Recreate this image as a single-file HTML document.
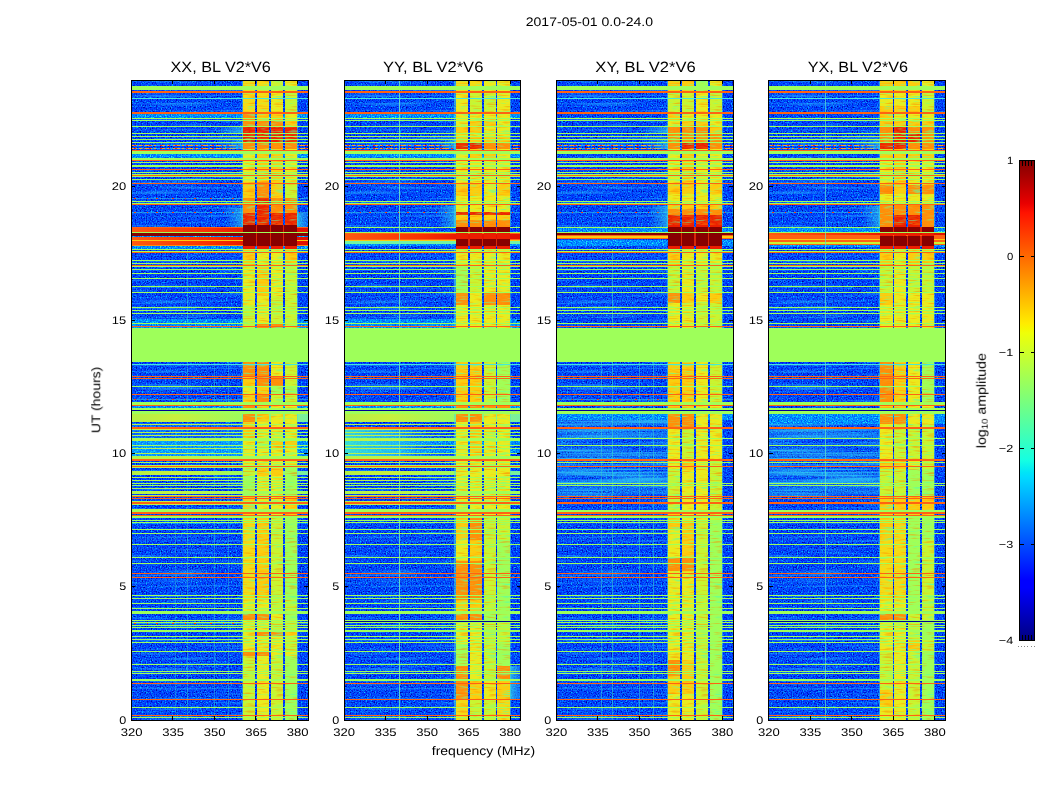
<!DOCTYPE html>
<html><head><meta charset="utf-8"><title>waterfall</title>
<style>
html,body{margin:0;padding:0;background:#fff;}
body{width:1050px;height:800px;overflow:hidden;font-family:"Liberation Sans",sans-serif;}
svg{position:absolute;left:0;top:0;}
text{font-family:"Liberation Sans",sans-serif;fill:#000;}
</style></head><body>
<svg width="1050" height="800" viewBox="0 0 1050 800" shape-rendering="crispEdges">
<defs>
<filter id="nz" x="0" y="0" width="100%" height="100%" color-interpolation-filters="sRGB"><feTurbulence type="fractalNoise" baseFrequency="0.8" numOctaves="2" seed="3" result="t"/><feColorMatrix in="t" type="matrix" values="1 0 0 0 0  1 0 0 0 0  1 0 0 0 0  0 0 0 0 1" result="a"/><feComponentTransfer in="a" result="m"><feFuncR type="table" tableValues="0 0 0 0 0 0 0 0 0 0 0"/><feFuncG type="table" tableValues="0 0 0.02 0.07 0.16 0.26 0.37 0.52 0.72 0.9 1"/><feFuncB type="table" tableValues="0.45 0.5 0.6 0.8 0.95 1 1 1 1 1 1"/></feComponentTransfer><feComposite in="m" in2="SourceAlpha" operator="in"/></filter>
<filter id="nzc" x="0" y="0" width="100%" height="100%" color-interpolation-filters="sRGB"><feTurbulence type="fractalNoise" baseFrequency="0.8" numOctaves="2" seed="3" result="t"/><feColorMatrix in="t" type="matrix" values="1 0 0 0 0  1 0 0 0 0  1 0 0 0 0  0 0 0 0 1" result="a"/><feComponentTransfer in="a" result="m"><feFuncR type="table" tableValues="0 0 0 0 0 0 0 0.05 0.2 0.35 0.35"/><feFuncG type="table" tableValues="0.2 0.2 0.25 0.32 0.44 0.56 0.68 0.82 0.95 1 1"/><feFuncB type="table" tableValues="1 1 1 1 1 1 1 1 0.92 0.85 0.85"/></feComponentTransfer><feComposite in="m" in2="SourceAlpha" operator="in"/></filter>
<filter id="bt" x="0" y="0" width="100%" height="100%" color-interpolation-filters="sRGB"><feTurbulence type="fractalNoise" baseFrequency="0.07 0.55" numOctaves="2" seed="11" result="t"/><feColorMatrix in="t" type="matrix" values="1 0 0 0 0  1 0 0 0 0  1 0 0 0 0  1 0 0 0 0" result="a"/><feComponentTransfer in="a"><feFuncR type="table" tableValues="0.3 0.3 0.35 0.45 0.6 1 1 1 1 1 1"/><feFuncG type="table" tableValues="1 1 1 1 1 1 0.6 0.55 0.5 0.45 0.45"/><feFuncB type="table" tableValues="0.7 0.7 0.65 0.55 0.4 0 0 0 0 0 0"/><feFuncA type="table" tableValues="0.75 0.75 0.65 0.45 0.18 0 0.18 0.36 0.48 0.52 0.52"/></feComponentTransfer><feComposite in2="SourceAlpha" operator="in"/></filter>
<filter id="stk" x="0" y="0" width="100%" height="100%" color-interpolation-filters="sRGB"><feTurbulence type="fractalNoise" baseFrequency="0.012 0.4" numOctaves="2" seed="5" result="t"/><feColorMatrix in="t" type="matrix" values="0 0 0 0 0.15  0 0 0 0 0.7  0 0 0 0 1  1 0 0 0 0"/><feComponentTransfer><feFuncA type="table" tableValues="0 0 0 0 0 0 0.18 0.38 0.5 0.55 0.55"/></feComponentTransfer><feComposite in2="SourceAlpha" operator="in"/></filter>
<linearGradient id="lg" x1="0" y1="0" x2="1" y2="0"><stop offset="0" stop-color="#b4f046"/><stop offset="0.25" stop-color="#c8f03c"/><stop offset="0.6" stop-color="#a0fa5a"/><stop offset="1" stop-color="#78f0a0"/></linearGradient>
<filter id="stk2" x="0" y="0" width="100%" height="100%" color-interpolation-filters="sRGB"><feTurbulence type="fractalNoise" baseFrequency="0.008 0.5" numOctaves="2" seed="9" result="t"/><feColorMatrix in="t" type="matrix" values="0 0 0 0 0.2  0 0 0 0 0.82  0 0 0 0 0.95  1 0 0 0 0"/><feComponentTransfer><feFuncA type="table" tableValues="0 0 0 0 0.1 0.3 0.5 0.7 0.8 0.8 0.8"/></feComponentTransfer><feComposite in2="SourceAlpha" operator="in"/></filter>
<linearGradient id="ag" x1="0" y1="0" x2="1" y2="0"><stop offset="0" stop-color="#aef54e"/><stop offset="0.25" stop-color="#c4f242"/><stop offset="0.6" stop-color="#a2fd5a"/><stop offset="1" stop-color="#9eff5a"/></linearGradient>
<linearGradient id="ev" x1="0" y1="0" x2="1" y2="0"><stop offset="0" stop-color="#ff5a10"/><stop offset="0.45" stop-color="#f83000"/><stop offset="0.65" stop-color="#e81800"/><stop offset="1" stop-color="#e01000"/></linearGradient>
<linearGradient id="gl" x1="0" y1="0" x2="1" y2="0"><stop offset="0" stop-color="#30d0e8" stop-opacity="0"/><stop offset="1" stop-color="#38d8e8" stop-opacity="0.6"/></linearGradient>
<linearGradient id="gr" x1="0" y1="0" x2="1" y2="0"><stop offset="0" stop-color="#30d0e8" stop-opacity="0.8"/><stop offset="1" stop-color="#30c0f0" stop-opacity="0.3"/></linearGradient>
<linearGradient id="blob" x1="0" y1="0" x2="1" y2="0"><stop offset="0" stop-color="#40e8d0" stop-opacity="0.9"/><stop offset="0.5" stop-color="#30d0f0" stop-opacity="0.7"/><stop offset="1" stop-color="#20a0ff" stop-opacity="0"/></linearGradient>
<linearGradient id="jet" x1="0" y1="1" x2="0" y2="0">
<stop offset="0" stop-color="#000080"/><stop offset="0.11" stop-color="#0000ff"/><stop offset="0.125" stop-color="#0000ff"/><stop offset="0.34" stop-color="#00dbff"/><stop offset="0.35" stop-color="#00e5f7"/><stop offset="0.375" stop-color="#15ffe2"/><stop offset="0.5" stop-color="#7bff7b"/><stop offset="0.64" stop-color="#efff08"/><stop offset="0.65" stop-color="#f7f600"/><stop offset="0.66" stop-color="#ffec00"/><stop offset="0.89" stop-color="#ff1300"/><stop offset="0.91" stop-color="#e80000"/><stop offset="1" stop-color="#800000"/>
</linearGradient>
</defs>
<clipPath id="cp0"><rect x="-0.40" y="80" width="178" height="641"/></clipPath>
<g transform="translate(131.40,0)" clip-path="url(#cp0)">
<rect x="0.00" y="80.00" width="176.90" height="640.00" fill="#0848e8" filter="url(#nz)"/>
<rect x="0.00" y="80.00" width="110.90" height="640.00" fill="#fff" filter="url(#stk)"/>
<rect x="0.00" y="145.00" width="176.90" height="1.00" fill="#30c8e8" opacity="0.7"/>
<line x1="1" y1="145.50" x2="176.9" y2="145.50" stroke="#ffa818" stroke-width="1.00" stroke-dasharray="5 2 3 3 7 2 2 4"/>
<line x1="3" y1="145.50" x2="176.9" y2="145.50" stroke="#f03010" stroke-width="1.00" stroke-dasharray="2 7 1 5 2 9"/>
<rect x="0.00" y="148.00" width="176.90" height="1.00" fill="#30c8e8" opacity="0.7"/>
<line x1="1" y1="148.50" x2="176.9" y2="148.50" stroke="#ffa818" stroke-width="1.00" stroke-dasharray="5 2 3 3 7 2 2 4"/>
<line x1="3" y1="148.50" x2="176.9" y2="148.50" stroke="#f03010" stroke-width="1.00" stroke-dasharray="2 7 1 5 2 9"/>
<rect x="0.00" y="198.00" width="176.90" height="1.00" fill="#30c8e8" opacity="0.6"/>
<line x1="3" y1="198.50" x2="176.9" y2="198.50" stroke="#f04010" stroke-width="1.00" stroke-dasharray="2 11 1 8 2 14"/>
<rect x="0.00" y="212.00" width="176.90" height="1.00" fill="#30c8e8" opacity="0.6"/>
<line x1="3" y1="212.50" x2="176.9" y2="212.50" stroke="#f04010" stroke-width="1.00" stroke-dasharray="2 11 1 8 2 14"/>
<rect x="0.00" y="399.00" width="176.90" height="1.00" fill="#30c8e8" opacity="0.6"/>
<line x1="3" y1="399.50" x2="176.9" y2="399.50" stroke="#f04010" stroke-width="1.00" stroke-dasharray="2 11 1 8 2 14"/>
<rect x="0.00" y="623.00" width="176.90" height="1.00" fill="#30c8e8" opacity="0.6"/>
<line x1="3" y1="623.50" x2="176.9" y2="623.50" stroke="#f04010" stroke-width="1.00" stroke-dasharray="2 11 1 8 2 14"/>
<rect x="0.00" y="227.00" width="176.90" height="1.00" fill="#ff6212"/>
<rect x="0.00" y="228.00" width="176.90" height="4.00" fill="url(#ev)"/>
<rect x="0.00" y="233.00" width="176.90" height="3.00" fill="#870000"/>
<rect x="0.00" y="236.00" width="176.90" height="4.00" fill="url(#ev)"/>
<rect x="0.00" y="240.00" width="176.90" height="1.00" fill="#fdcb0e"/>
<rect x="0.00" y="241.00" width="176.90" height="4.00" fill="url(#ev)"/>
<rect x="0.00" y="245.00" width="176.90" height="1.00" fill="#ff8c0a"/>
<g filter="url(#nzc)"><rect x="0.00" y="114.00" width="176.90" height="4.00" fill="#1ea0f5"/><rect x="0.00" y="154.00" width="176.90" height="4.00" fill="#1ea0f5"/><rect x="0.00" y="319.00" width="176.90" height="4.00" fill="#1ea0f5"/><rect x="0.00" y="324.00" width="176.90" height="2.00" fill="#1ea0f5"/><rect x="0.00" y="327.00" width="176.90" height="1.00" fill="#1ea0f5"/><rect x="0.00" y="406.00" width="176.90" height="2.00" fill="#1ea0f5"/><rect x="0.00" y="441.00" width="176.90" height="4.00" fill="#1ea0f5"/><rect x="0.00" y="446.00" width="176.90" height="2.00" fill="#1ea0f5"/><rect x="0.00" y="449.00" width="176.90" height="4.00" fill="#1ea0f5"/><rect x="0.00" y="454.00" width="176.90" height="2.00" fill="#1ea0f5"/><rect x="0.00" y="523.00" width="176.90" height="1.00" fill="#1ea0f5"/><rect x="0.00" y="236.00" width="176.90" height="1.00" fill="#1ea0f5"/><rect x="0.00" y="246.00" width="176.90" height="3.00" fill="#1ea0f5"/></g>
<rect x="82" y="127" width="30" height="6" fill="url(#gl)"/><rect x="85" y="139" width="27" height="10" fill="url(#gl)"/><rect x="93" y="208" width="19" height="19" fill="url(#gl)"/><rect x="165.7" y="213" width="11.200000000000017" height="14" fill="url(#gr)"/><rect x="0" y="423" width="112" height="35" fill="#20c0ff" opacity="0.3"/><rect x="44" y="430" width="1" height="290" fill="#35d0d0" opacity="0.35"/><rect x="56" y="250" width="1" height="470" fill="#35d0d0" opacity="0.45"/><rect x="83" y="330" width="1" height="390" fill="#35d0d0" opacity="0.4"/><rect x="97" y="330" width="1" height="390" fill="#35d0d0" opacity="0.4"/>
<rect x="0.00" y="414.00" width="176.90" height="8.00" fill="url(#lg)"/>
<rect x="0.00" y="471.00" width="176.90" height="4.00" fill="url(#lg)"/>
<rect x="111.90" y="80.00" width="12.10" height="13.00" fill="#f6da14"/>
<rect x="125.80" y="80.00" width="12.10" height="13.00" fill="#f6da14"/>
<rect x="139.70" y="80.00" width="11.90" height="13.00" fill="#c8f532"/>
<rect x="153.40" y="80.00" width="12.20" height="13.00" fill="#ebeb1e"/>
<rect x="111.90" y="93.00" width="12.10" height="19.00" fill="#f6da14"/>
<rect x="125.80" y="93.00" width="12.10" height="19.00" fill="#f6da14"/>
<rect x="139.70" y="93.00" width="11.90" height="19.00" fill="#ebeb1e"/>
<rect x="153.40" y="93.00" width="12.20" height="19.00" fill="#c8f532"/>
<rect x="111.90" y="112.00" width="12.10" height="9.00" fill="#ff8c0a"/>
<rect x="125.80" y="112.00" width="12.10" height="9.00" fill="#fdcb0e"/>
<rect x="139.70" y="112.00" width="11.90" height="9.00" fill="#fdcb0e"/>
<rect x="153.40" y="112.00" width="12.20" height="9.00" fill="#ebeb1e"/>
<rect x="111.90" y="121.00" width="12.10" height="6.00" fill="#ff8c0a"/>
<rect x="125.80" y="121.00" width="12.10" height="6.00" fill="#ff8c0a"/>
<rect x="139.70" y="121.00" width="11.90" height="6.00" fill="#ff8c0a"/>
<rect x="153.40" y="121.00" width="12.20" height="6.00" fill="#fdcb0e"/>
<rect x="111.90" y="127.00" width="12.10" height="16.00" fill="#eb1e00"/>
<rect x="125.80" y="127.00" width="12.10" height="16.00" fill="#eb1e00"/>
<rect x="139.70" y="127.00" width="11.90" height="16.00" fill="#eb1e00"/>
<rect x="153.40" y="127.00" width="12.20" height="16.00" fill="#eb1e00"/>
<rect x="111.90" y="143.00" width="12.10" height="6.00" fill="#ff8c0a"/>
<rect x="125.80" y="143.00" width="12.10" height="6.00" fill="#ff8c0a"/>
<rect x="139.70" y="143.00" width="11.90" height="6.00" fill="#ff8c0a"/>
<rect x="153.40" y="143.00" width="12.20" height="6.00" fill="#ff8c0a"/>
<rect x="111.90" y="149.00" width="12.10" height="33.00" fill="#ebeb1e"/>
<rect x="125.80" y="149.00" width="12.10" height="33.00" fill="#fdcb0e"/>
<rect x="139.70" y="149.00" width="11.90" height="33.00" fill="#fdcb0e"/>
<rect x="153.40" y="149.00" width="12.20" height="33.00" fill="#ebeb1e"/>
<rect x="111.90" y="182.00" width="12.10" height="16.00" fill="#fdcb0e"/>
<rect x="125.80" y="182.00" width="12.10" height="16.00" fill="#ff8c0a"/>
<rect x="139.70" y="182.00" width="11.90" height="16.00" fill="#fdcb0e"/>
<rect x="153.40" y="182.00" width="12.20" height="16.00" fill="#c8f532"/>
<rect x="111.90" y="198.00" width="12.10" height="15.00" fill="#ff8c0a"/>
<rect x="125.80" y="198.00" width="12.10" height="15.00" fill="#eb1e00"/>
<rect x="139.70" y="198.00" width="11.90" height="15.00" fill="#ff8c0a"/>
<rect x="153.40" y="198.00" width="12.20" height="15.00" fill="#ff8c0a"/>
<rect x="111.90" y="213.00" width="12.10" height="12.00" fill="#eb1e00"/>
<rect x="125.80" y="213.00" width="12.10" height="12.00" fill="#eb1e00"/>
<rect x="139.70" y="213.00" width="11.90" height="12.00" fill="#eb1e00"/>
<rect x="153.40" y="213.00" width="12.20" height="12.00" fill="#eb1e00"/>
<rect x="111.90" y="225.00" width="12.10" height="21.00" fill="#870000"/>
<rect x="125.80" y="225.00" width="12.10" height="21.00" fill="#870000"/>
<rect x="139.70" y="225.00" width="11.90" height="21.00" fill="#870000"/>
<rect x="153.40" y="225.00" width="12.20" height="21.00" fill="#870000"/>
<rect x="111.90" y="246.00" width="12.10" height="3.50" fill="#eb1e00"/>
<rect x="125.80" y="246.00" width="12.10" height="3.50" fill="#eb1e00"/>
<rect x="139.70" y="246.00" width="11.90" height="3.50" fill="#eb1e00"/>
<rect x="153.40" y="246.00" width="12.20" height="3.50" fill="#eb1e00"/>
<rect x="111.90" y="249.50" width="12.10" height="16.50" fill="#fdcb0e"/>
<rect x="125.80" y="249.50" width="12.10" height="16.50" fill="#ebeb1e"/>
<rect x="139.70" y="249.50" width="11.90" height="16.50" fill="#ebeb1e"/>
<rect x="153.40" y="249.50" width="12.20" height="16.50" fill="#fdcb0e"/>
<rect x="111.90" y="266.00" width="12.10" height="30.00" fill="#ebeb1e"/>
<rect x="125.80" y="266.00" width="12.10" height="30.00" fill="#fdcb0e"/>
<rect x="139.70" y="266.00" width="11.90" height="30.00" fill="#ebeb1e"/>
<rect x="153.40" y="266.00" width="12.20" height="30.00" fill="#c8f532"/>
<rect x="111.90" y="296.00" width="12.10" height="9.00" fill="#ebeb1e"/>
<rect x="125.80" y="296.00" width="12.10" height="9.00" fill="#ebeb1e"/>
<rect x="139.70" y="296.00" width="11.90" height="9.00" fill="#c8f532"/>
<rect x="153.40" y="296.00" width="12.20" height="9.00" fill="#c8f532"/>
<rect x="111.90" y="305.00" width="12.10" height="19.00" fill="#c8f532"/>
<rect x="125.80" y="305.00" width="12.10" height="19.00" fill="#ebeb1e"/>
<rect x="139.70" y="305.00" width="11.90" height="19.00" fill="#c8f532"/>
<rect x="153.40" y="305.00" width="12.20" height="19.00" fill="#c8f532"/>
<rect x="111.90" y="324.00" width="12.10" height="4.00" fill="#c8f532"/>
<rect x="125.80" y="324.00" width="12.10" height="4.00" fill="#ff8c0a"/>
<rect x="139.70" y="324.00" width="11.90" height="4.00" fill="#ff8c0a"/>
<rect x="153.40" y="324.00" width="12.20" height="4.00" fill="#c8f532"/>
<rect x="111.90" y="362.00" width="12.10" height="14.00" fill="#ff8c0a"/>
<rect x="125.80" y="362.00" width="12.10" height="14.00" fill="#ff8c0a"/>
<rect x="139.70" y="362.00" width="11.90" height="14.00" fill="#ebeb1e"/>
<rect x="153.40" y="362.00" width="12.20" height="14.00" fill="#c8f532"/>
<rect x="111.90" y="376.00" width="12.10" height="10.00" fill="#fdcb0e"/>
<rect x="125.80" y="376.00" width="12.10" height="10.00" fill="#ff8c0a"/>
<rect x="139.70" y="376.00" width="11.90" height="10.00" fill="#ff8c0a"/>
<rect x="153.40" y="376.00" width="12.20" height="10.00" fill="#c8f532"/>
<rect x="111.90" y="386.00" width="12.10" height="8.00" fill="#ebeb1e"/>
<rect x="125.80" y="386.00" width="12.10" height="8.00" fill="#fdcb0e"/>
<rect x="139.70" y="386.00" width="11.90" height="8.00" fill="#9eff5a"/>
<rect x="153.40" y="386.00" width="12.20" height="8.00" fill="#9eff5a"/>
<rect x="111.90" y="394.00" width="12.10" height="8.00" fill="#fdcb0e"/>
<rect x="125.80" y="394.00" width="12.10" height="8.00" fill="#ff8c0a"/>
<rect x="139.70" y="394.00" width="11.90" height="8.00" fill="#c8f532"/>
<rect x="153.40" y="394.00" width="12.20" height="8.00" fill="#c8f532"/>
<rect x="111.90" y="402.00" width="12.10" height="20.00" fill="#ff8c0a"/>
<rect x="125.80" y="402.00" width="12.10" height="20.00" fill="#fdcb0e"/>
<rect x="139.70" y="402.00" width="11.90" height="20.00" fill="#ebeb1e"/>
<rect x="153.40" y="402.00" width="12.20" height="20.00" fill="#ebeb1e"/>
<rect x="111.90" y="422.00" width="12.10" height="19.00" fill="#fdcb0e"/>
<rect x="125.80" y="422.00" width="12.10" height="19.00" fill="#ebeb1e"/>
<rect x="139.70" y="422.00" width="11.90" height="19.00" fill="#ebeb1e"/>
<rect x="153.40" y="422.00" width="12.20" height="19.00" fill="#ebeb1e"/>
<rect x="111.90" y="441.00" width="12.10" height="8.00" fill="#ebeb1e"/>
<rect x="125.80" y="441.00" width="12.10" height="8.00" fill="#c8f532"/>
<rect x="139.70" y="441.00" width="11.90" height="8.00" fill="#fdcb0e"/>
<rect x="153.40" y="441.00" width="12.20" height="8.00" fill="#fdcb0e"/>
<rect x="111.90" y="449.00" width="12.10" height="19.00" fill="#ebeb1e"/>
<rect x="125.80" y="449.00" width="12.10" height="19.00" fill="#ebeb1e"/>
<rect x="139.70" y="449.00" width="11.90" height="19.00" fill="#ebeb1e"/>
<rect x="153.40" y="449.00" width="12.20" height="19.00" fill="#ebeb1e"/>
<rect x="111.90" y="468.00" width="12.10" height="8.00" fill="#c8f532"/>
<rect x="125.80" y="468.00" width="12.10" height="8.00" fill="#fdcb0e"/>
<rect x="139.70" y="468.00" width="11.90" height="8.00" fill="#fdcb0e"/>
<rect x="153.40" y="468.00" width="12.20" height="8.00" fill="#9eff5a"/>
<rect x="111.90" y="476.00" width="12.10" height="19.00" fill="#9eff5a"/>
<rect x="125.80" y="476.00" width="12.10" height="19.00" fill="#ebeb1e"/>
<rect x="139.70" y="476.00" width="11.90" height="19.00" fill="#ebeb1e"/>
<rect x="153.40" y="476.00" width="12.20" height="19.00" fill="#9eff5a"/>
<rect x="111.90" y="495.00" width="12.10" height="23.00" fill="#fdcb0e"/>
<rect x="125.80" y="495.00" width="12.10" height="23.00" fill="#ebeb1e"/>
<rect x="139.70" y="495.00" width="11.90" height="23.00" fill="#ebeb1e"/>
<rect x="153.40" y="495.00" width="12.20" height="23.00" fill="#fdcb0e"/>
<rect x="111.90" y="518.00" width="12.10" height="82.00" fill="#f6da14"/>
<rect x="125.80" y="518.00" width="12.10" height="82.00" fill="#fdcb0e"/>
<rect x="139.70" y="518.00" width="11.90" height="82.00" fill="#c8f532"/>
<rect x="153.40" y="518.00" width="12.20" height="82.00" fill="#9eff5a"/>
<rect x="111.90" y="600.00" width="12.10" height="14.00" fill="#ebeb1e"/>
<rect x="125.80" y="600.00" width="12.10" height="14.00" fill="#ebeb1e"/>
<rect x="139.70" y="600.00" width="11.90" height="14.00" fill="#c8f532"/>
<rect x="153.40" y="600.00" width="12.20" height="14.00" fill="#c8f532"/>
<rect x="111.90" y="614.00" width="12.10" height="7.00" fill="#ff8c0a"/>
<rect x="125.80" y="614.00" width="12.10" height="7.00" fill="#ff8c0a"/>
<rect x="139.70" y="614.00" width="11.90" height="7.00" fill="#ebeb1e"/>
<rect x="153.40" y="614.00" width="12.20" height="7.00" fill="#9eff5a"/>
<rect x="111.90" y="621.00" width="12.10" height="11.00" fill="#ebeb1e"/>
<rect x="125.80" y="621.00" width="12.10" height="11.00" fill="#ebeb1e"/>
<rect x="139.70" y="621.00" width="11.90" height="11.00" fill="#c8f532"/>
<rect x="153.40" y="621.00" width="12.20" height="11.00" fill="#c8f532"/>
<rect x="111.90" y="632.00" width="12.10" height="4.00" fill="#ebeb1e"/>
<rect x="125.80" y="632.00" width="12.10" height="4.00" fill="#ff8c0a"/>
<rect x="139.70" y="632.00" width="11.90" height="4.00" fill="#ff8c0a"/>
<rect x="153.40" y="632.00" width="12.20" height="4.00" fill="#fdcb0e"/>
<rect x="111.90" y="636.00" width="12.10" height="15.00" fill="#ebeb1e"/>
<rect x="125.80" y="636.00" width="12.10" height="15.00" fill="#ebeb1e"/>
<rect x="139.70" y="636.00" width="11.90" height="15.00" fill="#ebeb1e"/>
<rect x="153.40" y="636.00" width="12.20" height="15.00" fill="#c8f532"/>
<rect x="111.90" y="651.00" width="12.10" height="5.00" fill="#ff8c0a"/>
<rect x="125.80" y="651.00" width="12.10" height="5.00" fill="#ff8c0a"/>
<rect x="139.70" y="651.00" width="11.90" height="5.00" fill="#ebeb1e"/>
<rect x="153.40" y="651.00" width="12.20" height="5.00" fill="#ebeb1e"/>
<rect x="111.90" y="656.00" width="12.10" height="64.00" fill="#c8f532"/>
<rect x="125.80" y="656.00" width="12.10" height="64.00" fill="#ebeb1e"/>
<rect x="139.70" y="656.00" width="11.90" height="64.00" fill="#c8f532"/>
<rect x="153.40" y="656.00" width="12.20" height="64.00" fill="#9eff5a"/>
<g filter="url(#bt)"><rect x="111.90" y="80" width="12.10" height="145" fill="#fff"/><rect x="125.80" y="80" width="12.10" height="145" fill="#fff"/><rect x="139.70" y="80" width="11.90" height="145" fill="#fff"/><rect x="153.40" y="80" width="12.20" height="145" fill="#fff"/><rect x="111.90" y="249.5" width="12.10" height="470.5" fill="#fff"/><rect x="125.80" y="249.5" width="12.10" height="470.5" fill="#fff"/><rect x="139.70" y="249.5" width="11.90" height="470.5" fill="#fff"/><rect x="153.40" y="249.5" width="12.20" height="470.5" fill="#fff"/></g>
<rect x="124.00" y="80" width="1.80" height="640" fill="#1060ff" opacity="0.0"/>
<rect x="137.90" y="80" width="1.80" height="640" fill="#1060ff" opacity="0.0"/>
<rect x="151.60" y="80" width="1.80" height="640" fill="#1060ff" opacity="0.0"/>
<rect x="110.40" y="80" width="1.5" height="146" fill="#50e0d0" opacity="0.55"/>
<rect x="165.60" y="80" width="1.3" height="146" fill="#50e0d0" opacity="0.5"/>
<rect x="110.40" y="249" width="1.5" height="471" fill="#50e0d0" opacity="0.55"/>
<rect x="165.60" y="249" width="1.3" height="471" fill="#50e0d0" opacity="0.5"/>
<rect x="111.90" y="225.00" width="53.70" height="21.00" fill="#870000"/>
<rect x="124.30" y="225.00" width="1.20" height="21.00" fill="#d82808"/>
<rect x="138.20" y="225.00" width="1.20" height="21.00" fill="#d82808"/>
<rect x="151.90" y="225.00" width="1.20" height="21.00" fill="#d82808"/>
<rect x="0.00" y="86.00" width="176.90" height="4.00" fill="#9eff5a"/>
<rect x="0.00" y="91.00" width="176.90" height="2.00" fill="#ff6212"/>
<rect x="0.00" y="98.00" width="176.90" height="1.00" fill="#46e8d7"/>
<rect x="0.00" y="112.00" width="176.90" height="2.00" fill="#ff6212"/>
<rect x="0.00" y="118.00" width="176.90" height="1.00" fill="#9eff5a"/>
<rect x="0.00" y="120.00" width="176.90" height="1.00" fill="#9eff5a"/>
<rect x="0.00" y="126.00" width="176.90" height="1.00" fill="#9eff5a"/>
<rect x="0.00" y="133.00" width="176.90" height="1.00" fill="#9eff5a"/>
<rect x="0.00" y="136.00" width="176.90" height="1.00" fill="#9eff5a"/>
<rect x="0.00" y="139.00" width="176.90" height="1.00" fill="#9eff5a"/>
<rect x="0.00" y="142.00" width="176.90" height="1.00" fill="#9eff5a"/>
<rect x="0.00" y="150.00" width="176.90" height="1.00" fill="#ff6212"/>
<rect x="0.00" y="151.00" width="176.90" height="3.00" fill="#9eff5a"/>
<rect x="0.00" y="158.00" width="176.90" height="2.00" fill="#9eff5a"/>
<rect x="0.00" y="160.00" width="176.90" height="1.00" fill="#ff6212"/>
<rect x="0.00" y="162.00" width="176.90" height="1.00" fill="#9eff5a"/>
<rect x="0.00" y="165.00" width="176.90" height="2.00" fill="#9eff5a"/>
<rect x="0.00" y="169.00" width="176.90" height="1.00" fill="#ff6212"/>
<rect x="0.00" y="172.00" width="176.90" height="1.00" fill="#9eff5a"/>
<rect x="0.00" y="174.00" width="176.90" height="1.00" fill="#9eff5a"/>
<rect x="0.00" y="175.00" width="176.90" height="1.00" fill="#ff6212"/>
<rect x="0.00" y="176.00" width="176.90" height="1.00" fill="#9eff5a"/>
<rect x="0.00" y="179.00" width="176.90" height="1.00" fill="#9eff5a"/>
<rect x="0.00" y="183.00" width="176.90" height="1.00" fill="#ff6212"/>
<rect x="0.00" y="201.00" width="176.90" height="1.00" fill="#9eff5a"/>
<rect x="0.00" y="203.00" width="176.90" height="1.00" fill="#9eff5a"/>
<rect x="0.00" y="204.00" width="176.90" height="1.00" fill="#ff6212"/>
<rect x="0.00" y="232.00" width="176.90" height="1.00" fill="#9eff5a"/>
<rect x="0.00" y="249.00" width="176.90" height="1.00" fill="#9eff5a"/>
<rect x="0.00" y="251.00" width="176.90" height="1.00" fill="#9eff5a"/>
<rect x="0.00" y="252.00" width="176.90" height="1.00" fill="#ff6212"/>
<rect x="0.00" y="260.00" width="176.90" height="1.00" fill="#9eff5a"/>
<rect x="0.00" y="263.00" width="176.90" height="1.00" fill="#9eff5a"/>
<rect x="0.00" y="265.00" width="176.90" height="1.00" fill="#ff6212"/>
<rect x="0.00" y="266.00" width="176.90" height="1.00" fill="#9eff5a"/>
<rect x="0.00" y="269.00" width="176.90" height="1.00" fill="#9eff5a"/>
<rect x="0.00" y="273.00" width="176.90" height="1.00" fill="#9eff5a"/>
<rect x="0.00" y="278.00" width="176.90" height="1.00" fill="#9eff5a"/>
<rect x="0.00" y="286.00" width="176.90" height="1.00" fill="#9eff5a"/>
<rect x="0.00" y="292.00" width="176.90" height="1.00" fill="#9eff5a"/>
<rect x="0.00" y="307.00" width="176.90" height="1.00" fill="#9eff5a"/>
<rect x="0.00" y="310.00" width="176.90" height="1.00" fill="#9eff5a"/>
<rect x="0.00" y="313.00" width="176.90" height="1.00" fill="#9eff5a"/>
<rect x="0.00" y="323.00" width="176.90" height="1.00" fill="#9eff5a"/>
<rect x="0.00" y="326.00" width="176.90" height="1.00" fill="#ff6212"/>
<rect x="0.00" y="328.00" width="176.90" height="34.00" fill="#9eff5a"/>
<rect x="0.00" y="364.00" width="176.90" height="1.00" fill="#46e8d7"/>
<rect x="0.00" y="376.00" width="176.90" height="1.00" fill="#ff6212"/>
<rect x="0.00" y="378.00" width="176.90" height="1.00" fill="#ff6212"/>
<rect x="0.00" y="386.00" width="176.90" height="1.00" fill="#9eff5a"/>
<rect x="0.00" y="394.00" width="176.90" height="1.00" fill="#ff6212"/>
<rect x="0.00" y="402.00" width="176.90" height="3.00" fill="#9eff5a"/>
<rect x="0.00" y="405.00" width="176.90" height="1.00" fill="#ff6212"/>
<rect x="0.00" y="408.00" width="176.90" height="2.00" fill="#9eff5a"/>
<rect x="0.00" y="410.00" width="176.90" height="1.00" fill="#000096"/>
<rect x="0.00" y="411.00" width="176.90" height="3.00" fill="#9eff5a"/>
<rect x="0.00" y="427.00" width="176.90" height="2.00" fill="#ff6212"/>
<rect x="0.00" y="438.00" width="176.90" height="1.00" fill="#9eff5a"/>
<rect x="0.00" y="445.00" width="176.90" height="1.00" fill="#9eff5a"/>
<rect x="0.00" y="459.00" width="176.90" height="2.00" fill="#ff6212"/>
<rect x="0.00" y="462.00" width="176.90" height="1.00" fill="#9eff5a"/>
<rect x="0.00" y="466.00" width="176.90" height="1.00" fill="#ff6212"/>
<rect x="0.00" y="483.00" width="176.90" height="1.00" fill="#9eff5a"/>
<rect x="0.00" y="485.00" width="176.90" height="1.00" fill="#9eff5a"/>
<rect x="0.00" y="496.00" width="176.90" height="1.00" fill="#ff6212"/>
<rect x="0.00" y="498.00" width="176.90" height="1.00" fill="#ff6212"/>
<rect x="0.00" y="502.00" width="176.90" height="2.00" fill="#ff6212"/>
<rect x="0.00" y="510.00" width="176.90" height="2.00" fill="#9eff5a"/>
<rect x="0.00" y="512.00" width="176.90" height="2.00" fill="#ff6212"/>
<rect x="0.00" y="515.00" width="176.90" height="1.00" fill="#ff6212"/>
<rect x="0.00" y="516.00" width="176.90" height="2.00" fill="#9eff5a"/>
<rect x="0.00" y="520.00" width="176.90" height="1.00" fill="#9eff5a"/>
<rect x="0.00" y="522.00" width="176.90" height="1.00" fill="#9eff5a"/>
<rect x="0.00" y="529.00" width="176.90" height="1.00" fill="#9eff5a"/>
<rect x="0.00" y="533.00" width="176.90" height="1.00" fill="#9eff5a"/>
<rect x="0.00" y="544.00" width="176.90" height="1.00" fill="#9eff5a"/>
<rect x="0.00" y="557.00" width="176.90" height="1.00" fill="#9eff5a"/>
<rect x="0.00" y="563.00" width="176.90" height="1.00" fill="#9eff5a"/>
<rect x="0.00" y="573.00" width="176.90" height="1.00" fill="#ff6212"/>
<rect x="0.00" y="577.00" width="176.90" height="1.00" fill="#ff6212"/>
<rect x="0.00" y="595.00" width="176.90" height="1.00" fill="#9eff5a"/>
<rect x="0.00" y="598.00" width="176.90" height="1.00" fill="#9eff5a"/>
<rect x="0.00" y="603.00" width="176.90" height="1.00" fill="#9eff5a"/>
<rect x="0.00" y="608.00" width="176.90" height="1.00" fill="#9eff5a"/>
<rect x="0.00" y="611.00" width="176.90" height="3.00" fill="#9eff5a"/>
<rect x="0.00" y="620.00" width="176.90" height="1.00" fill="#9eff5a"/>
<rect x="0.00" y="622.00" width="176.90" height="1.00" fill="#9eff5a"/>
<rect x="0.00" y="625.00" width="176.90" height="1.00" fill="#9eff5a"/>
<rect x="0.00" y="627.00" width="176.90" height="1.00" fill="#9eff5a"/>
<rect x="0.00" y="630.00" width="176.90" height="2.00" fill="#9eff5a"/>
<rect x="0.00" y="636.00" width="176.90" height="1.00" fill="#9eff5a"/>
<rect x="0.00" y="639.00" width="176.90" height="1.00" fill="#9eff5a"/>
<rect x="0.00" y="642.00" width="176.90" height="1.00" fill="#9eff5a"/>
<rect x="0.00" y="651.00" width="176.90" height="1.00" fill="#9eff5a"/>
<rect x="0.00" y="664.00" width="176.90" height="1.00" fill="#9eff5a"/>
<rect x="0.00" y="671.00" width="176.90" height="1.00" fill="#9eff5a"/>
<rect x="0.00" y="673.00" width="176.90" height="1.00" fill="#9eff5a"/>
<rect x="0.00" y="679.00" width="176.90" height="2.00" fill="#9eff5a"/>
<rect x="0.00" y="683.00" width="176.90" height="1.00" fill="#ff6212"/>
<rect x="0.00" y="699.00" width="176.90" height="1.00" fill="#ff6212"/>
<rect x="0.00" y="707.00" width="176.90" height="1.00" fill="#9eff5a"/>
<rect x="0.00" y="715.00" width="176.90" height="1.00" fill="#ff6212"/>
<rect x="0.00" y="717.00" width="176.90" height="1.00" fill="#9eff5a"/>
<rect x="0.00" y="424.00" width="176.90" height="1.00" fill="url(#ag)"/>
<rect x="0.00" y="429.00" width="176.90" height="1.00" fill="url(#ag)"/>
<rect x="0.00" y="432.00" width="176.90" height="1.00" fill="url(#ag)"/>
<rect x="0.00" y="435.00" width="176.90" height="1.00" fill="url(#ag)"/>
<rect x="0.00" y="439.00" width="176.90" height="2.00" fill="url(#ag)"/>
<rect x="0.00" y="448.00" width="176.90" height="1.00" fill="url(#ag)"/>
<rect x="0.00" y="453.00" width="176.90" height="1.00" fill="url(#ag)"/>
<rect x="0.00" y="456.00" width="176.90" height="3.00" fill="url(#ag)"/>
<rect x="0.00" y="465.00" width="176.90" height="1.00" fill="url(#ag)"/>
<rect x="0.00" y="467.00" width="176.90" height="1.00" fill="url(#ag)"/>
<rect x="0.00" y="477.00" width="176.90" height="1.00" fill="url(#ag)"/>
<rect x="0.00" y="480.00" width="176.90" height="1.00" fill="url(#ag)"/>
<rect x="0.00" y="488.00" width="176.90" height="1.00" fill="url(#ag)"/>
<rect x="0.00" y="491.00" width="176.90" height="3.00" fill="url(#ag)"/>
<rect x="0.00" y="495.00" width="176.90" height="1.00" fill="url(#ag)"/>
<rect x="0.00" y="501.00" width="176.90" height="1.00" fill="url(#ag)"/>
<rect x="0.00" y="504.00" width="176.90" height="1.00" fill="url(#ag)"/>
<rect x="0.00" y="509.00" width="176.90" height="1.00" fill="url(#ag)"/>
</g>
<rect x="131" y="80" width="1" height="641" fill="#000"/><rect x="308" y="80" width="1" height="641" fill="#000"/><rect x="131" y="80" width="178" height="1" fill="#000"/><rect x="131" y="720" width="178" height="1" fill="#000"/><clipPath id="cp1"><rect x="0.00" y="80" width="177" height="641"/></clipPath>
<g transform="translate(344.00,0)" clip-path="url(#cp1)">
<rect x="0.00" y="80.00" width="176.90" height="640.00" fill="#0848e8" filter="url(#nz)"/>
<rect x="0.00" y="80.00" width="110.90" height="640.00" fill="#fff" filter="url(#stk)"/>
<rect x="0.00" y="145.00" width="176.90" height="1.00" fill="#30c8e8" opacity="0.7"/>
<line x1="1" y1="145.50" x2="176.9" y2="145.50" stroke="#ffa818" stroke-width="1.00" stroke-dasharray="5 2 3 3 7 2 2 4"/>
<line x1="3" y1="145.50" x2="176.9" y2="145.50" stroke="#f03010" stroke-width="1.00" stroke-dasharray="2 7 1 5 2 9"/>
<rect x="0.00" y="148.00" width="176.90" height="1.00" fill="#30c8e8" opacity="0.7"/>
<line x1="1" y1="148.50" x2="176.9" y2="148.50" stroke="#ffa818" stroke-width="1.00" stroke-dasharray="5 2 3 3 7 2 2 4"/>
<line x1="3" y1="148.50" x2="176.9" y2="148.50" stroke="#f03010" stroke-width="1.00" stroke-dasharray="2 7 1 5 2 9"/>
<rect x="0.00" y="212.00" width="176.90" height="1.00" fill="#30c8e8" opacity="0.6"/>
<line x1="3" y1="212.50" x2="176.9" y2="212.50" stroke="#f04010" stroke-width="1.00" stroke-dasharray="2 11 1 8 2 14"/>
<rect x="0.00" y="227.00" width="176.90" height="1.00" fill="#9eff5a"/>
<rect x="0.00" y="233.00" width="176.90" height="1.00" fill="#ff6212"/>
<rect x="0.00" y="234.00" width="176.90" height="5.00" fill="url(#ev)"/>
<rect x="0.00" y="239.00" width="176.90" height="1.00" fill="#ff6212"/>
<rect x="0.00" y="240.00" width="176.90" height="1.00" fill="#fdcb0e"/>
<rect x="0.00" y="241.00" width="176.90" height="3.00" fill="#73f5a0"/>
<g filter="url(#nzc)"><rect x="0.00" y="114.00" width="176.90" height="4.00" fill="#1ea0f5"/><rect x="0.00" y="154.00" width="176.90" height="4.00" fill="#1ea0f5"/><rect x="0.00" y="319.00" width="176.90" height="4.00" fill="#1ea0f5"/><rect x="0.00" y="324.00" width="176.90" height="2.00" fill="#1ea0f5"/><rect x="0.00" y="327.00" width="176.90" height="1.00" fill="#1ea0f5"/><rect x="0.00" y="406.00" width="176.90" height="2.00" fill="#1ea0f5"/><rect x="0.00" y="441.00" width="176.90" height="4.00" fill="#1ea0f5"/><rect x="0.00" y="449.00" width="176.90" height="4.00" fill="#1ea0f5"/><rect x="0.00" y="244.00" width="176.90" height="2.00" fill="#1ea0f5"/></g>
<rect x="90" y="139" width="22" height="9" fill="url(#gl)"/><rect x="93" y="206" width="19" height="21" fill="url(#gl)"/><rect x="165.7" y="666" width="11.200000000000017" height="34" fill="url(#gr)"/><rect x="0" y="428" width="105" height="29" fill="url(#blob)"/><rect x="55.4" y="80" width="1" height="640" fill="#70e8c0" opacity="0.85"/>
<rect x="0.00" y="414.00" width="176.90" height="8.00" fill="url(#lg)"/>
<rect x="0.00" y="471.00" width="176.90" height="4.00" fill="url(#lg)"/>
<rect x="111.90" y="80.00" width="12.10" height="13.00" fill="#f6da14"/>
<rect x="125.80" y="80.00" width="12.10" height="13.00" fill="#f6da14"/>
<rect x="139.70" y="80.00" width="11.90" height="13.00" fill="#ebeb1e"/>
<rect x="153.40" y="80.00" width="12.20" height="13.00" fill="#ebeb1e"/>
<rect x="111.90" y="93.00" width="12.10" height="19.00" fill="#ebeb1e"/>
<rect x="125.80" y="93.00" width="12.10" height="19.00" fill="#c8f532"/>
<rect x="139.70" y="93.00" width="11.90" height="19.00" fill="#c8f532"/>
<rect x="153.40" y="93.00" width="12.20" height="19.00" fill="#ebeb1e"/>
<rect x="111.90" y="112.00" width="12.10" height="8.00" fill="#ebeb1e"/>
<rect x="125.80" y="112.00" width="12.10" height="8.00" fill="#ebeb1e"/>
<rect x="139.70" y="112.00" width="11.90" height="8.00" fill="#ebeb1e"/>
<rect x="153.40" y="112.00" width="12.20" height="8.00" fill="#ebeb1e"/>
<rect x="111.90" y="120.00" width="12.10" height="7.00" fill="#ebeb1e"/>
<rect x="125.80" y="120.00" width="12.10" height="7.00" fill="#fdcb0e"/>
<rect x="139.70" y="120.00" width="11.90" height="7.00" fill="#fdcb0e"/>
<rect x="153.40" y="120.00" width="12.20" height="7.00" fill="#ebeb1e"/>
<rect x="111.90" y="127.00" width="12.10" height="6.00" fill="#fdcb0e"/>
<rect x="125.80" y="127.00" width="12.10" height="6.00" fill="#fdcb0e"/>
<rect x="139.70" y="127.00" width="11.90" height="6.00" fill="#ebeb1e"/>
<rect x="153.40" y="127.00" width="12.20" height="6.00" fill="#ebeb1e"/>
<rect x="111.90" y="133.00" width="12.10" height="4.00" fill="#ebeb1e"/>
<rect x="125.80" y="133.00" width="12.10" height="4.00" fill="#ebeb1e"/>
<rect x="139.70" y="133.00" width="11.90" height="4.00" fill="#ebeb1e"/>
<rect x="153.40" y="133.00" width="12.20" height="4.00" fill="#ebeb1e"/>
<rect x="111.90" y="137.00" width="12.10" height="6.00" fill="#fdcb0e"/>
<rect x="125.80" y="137.00" width="12.10" height="6.00" fill="#fdcb0e"/>
<rect x="139.70" y="137.00" width="11.90" height="6.00" fill="#fdcb0e"/>
<rect x="153.40" y="137.00" width="12.20" height="6.00" fill="#fdcb0e"/>
<rect x="111.90" y="143.00" width="12.10" height="6.00" fill="#eb1e00"/>
<rect x="125.80" y="143.00" width="12.10" height="6.00" fill="#eb1e00"/>
<rect x="139.70" y="143.00" width="11.90" height="6.00" fill="#ff8c0a"/>
<rect x="153.40" y="143.00" width="12.20" height="6.00" fill="#ff8c0a"/>
<rect x="111.90" y="149.00" width="12.10" height="12.00" fill="#ebeb1e"/>
<rect x="125.80" y="149.00" width="12.10" height="12.00" fill="#fdcb0e"/>
<rect x="139.70" y="149.00" width="11.90" height="12.00" fill="#fdcb0e"/>
<rect x="153.40" y="149.00" width="12.20" height="12.00" fill="#ebeb1e"/>
<rect x="111.90" y="161.00" width="12.10" height="23.50" fill="#ebeb1e"/>
<rect x="125.80" y="161.00" width="12.10" height="23.50" fill="#ebeb1e"/>
<rect x="139.70" y="161.00" width="11.90" height="23.50" fill="#ebeb1e"/>
<rect x="153.40" y="161.00" width="12.20" height="23.50" fill="#ebeb1e"/>
<rect x="111.90" y="184.50" width="12.10" height="11.00" fill="#fdcb0e"/>
<rect x="125.80" y="184.50" width="12.10" height="11.00" fill="#fdcb0e"/>
<rect x="139.70" y="184.50" width="11.90" height="11.00" fill="#ebeb1e"/>
<rect x="153.40" y="184.50" width="12.20" height="11.00" fill="#fdcb0e"/>
<rect x="111.90" y="195.50" width="12.10" height="10.50" fill="#ebeb1e"/>
<rect x="125.80" y="195.50" width="12.10" height="10.50" fill="#ebeb1e"/>
<rect x="139.70" y="195.50" width="11.90" height="10.50" fill="#ebeb1e"/>
<rect x="153.40" y="195.50" width="12.20" height="10.50" fill="#ebeb1e"/>
<rect x="111.90" y="206.00" width="12.10" height="6.00" fill="#ebeb1e"/>
<rect x="125.80" y="206.00" width="12.10" height="6.00" fill="#ebeb1e"/>
<rect x="139.70" y="206.00" width="11.90" height="6.00" fill="#ebeb1e"/>
<rect x="153.40" y="206.00" width="12.20" height="6.00" fill="#ebeb1e"/>
<rect x="111.90" y="212.00" width="12.10" height="3.00" fill="#eb1e00"/>
<rect x="125.80" y="212.00" width="12.10" height="3.00" fill="#eb1e00"/>
<rect x="139.70" y="212.00" width="11.90" height="3.00" fill="#eb1e00"/>
<rect x="153.40" y="212.00" width="12.20" height="3.00" fill="#eb1e00"/>
<rect x="111.90" y="215.00" width="12.10" height="5.00" fill="#fdcb0e"/>
<rect x="125.80" y="215.00" width="12.10" height="5.00" fill="#fdcb0e"/>
<rect x="139.70" y="215.00" width="11.90" height="5.00" fill="#fdcb0e"/>
<rect x="153.40" y="215.00" width="12.20" height="5.00" fill="#fdcb0e"/>
<rect x="111.90" y="220.00" width="12.10" height="6.50" fill="#ff8c0a"/>
<rect x="125.80" y="220.00" width="12.10" height="6.50" fill="#ff8c0a"/>
<rect x="139.70" y="220.00" width="11.90" height="6.50" fill="#ff8c0a"/>
<rect x="153.40" y="220.00" width="12.20" height="6.50" fill="#ff8c0a"/>
<rect x="111.90" y="226.50" width="12.10" height="5.00" fill="#870000"/>
<rect x="125.80" y="226.50" width="12.10" height="5.00" fill="#870000"/>
<rect x="139.70" y="226.50" width="11.90" height="5.00" fill="#870000"/>
<rect x="153.40" y="226.50" width="12.20" height="5.00" fill="#870000"/>
<rect x="111.90" y="231.50" width="12.10" height="7.00" fill="#eb1e00"/>
<rect x="125.80" y="231.50" width="12.10" height="7.00" fill="#eb1e00"/>
<rect x="139.70" y="231.50" width="11.90" height="7.00" fill="#eb1e00"/>
<rect x="153.40" y="231.50" width="12.20" height="7.00" fill="#eb1e00"/>
<rect x="111.90" y="238.50" width="12.10" height="7.00" fill="#870000"/>
<rect x="125.80" y="238.50" width="12.10" height="7.00" fill="#870000"/>
<rect x="139.70" y="238.50" width="11.90" height="7.00" fill="#870000"/>
<rect x="153.40" y="238.50" width="12.20" height="7.00" fill="#870000"/>
<rect x="111.90" y="245.50" width="12.10" height="3.50" fill="#eb1e00"/>
<rect x="125.80" y="245.50" width="12.10" height="3.50" fill="#eb1e00"/>
<rect x="139.70" y="245.50" width="11.90" height="3.50" fill="#eb1e00"/>
<rect x="153.40" y="245.50" width="12.20" height="3.50" fill="#eb1e00"/>
<rect x="111.90" y="249.00" width="12.10" height="17.00" fill="#ebeb1e"/>
<rect x="125.80" y="249.00" width="12.10" height="17.00" fill="#ebeb1e"/>
<rect x="139.70" y="249.00" width="11.90" height="17.00" fill="#ebeb1e"/>
<rect x="153.40" y="249.00" width="12.20" height="17.00" fill="#ebeb1e"/>
<rect x="111.90" y="266.00" width="12.10" height="26.00" fill="#9eff5a"/>
<rect x="125.80" y="266.00" width="12.10" height="26.00" fill="#c8f532"/>
<rect x="139.70" y="266.00" width="11.90" height="26.00" fill="#ebeb1e"/>
<rect x="153.40" y="266.00" width="12.20" height="26.00" fill="#ebeb1e"/>
<rect x="111.90" y="292.00" width="12.10" height="13.00" fill="#ff8c0a"/>
<rect x="125.80" y="292.00" width="12.10" height="13.00" fill="#ebeb1e"/>
<rect x="139.70" y="292.00" width="11.90" height="13.00" fill="#ff8c0a"/>
<rect x="153.40" y="292.00" width="12.20" height="13.00" fill="#ff8c0a"/>
<rect x="111.90" y="305.00" width="12.10" height="23.00" fill="#ebeb1e"/>
<rect x="125.80" y="305.00" width="12.10" height="23.00" fill="#ebeb1e"/>
<rect x="139.70" y="305.00" width="11.90" height="23.00" fill="#ebeb1e"/>
<rect x="153.40" y="305.00" width="12.20" height="23.00" fill="#ebeb1e"/>
<rect x="111.90" y="362.00" width="12.10" height="40.00" fill="#fdcb0e"/>
<rect x="125.80" y="362.00" width="12.10" height="40.00" fill="#fdcb0e"/>
<rect x="139.70" y="362.00" width="11.90" height="40.00" fill="#c8f532"/>
<rect x="153.40" y="362.00" width="12.20" height="40.00" fill="#9eff5a"/>
<rect x="111.90" y="402.00" width="12.10" height="11.00" fill="#ff8c0a"/>
<rect x="125.80" y="402.00" width="12.10" height="11.00" fill="#ff8c0a"/>
<rect x="139.70" y="402.00" width="11.90" height="11.00" fill="#ff8c0a"/>
<rect x="153.40" y="402.00" width="12.20" height="11.00" fill="#ff8c0a"/>
<rect x="111.90" y="413.00" width="12.10" height="9.00" fill="#ff8c0a"/>
<rect x="125.80" y="413.00" width="12.10" height="9.00" fill="#ff8c0a"/>
<rect x="139.70" y="413.00" width="11.90" height="9.00" fill="#ebeb1e"/>
<rect x="153.40" y="413.00" width="12.20" height="9.00" fill="#ebeb1e"/>
<rect x="111.90" y="422.00" width="12.10" height="35.00" fill="#ebeb1e"/>
<rect x="125.80" y="422.00" width="12.10" height="35.00" fill="#fdcb0e"/>
<rect x="139.70" y="422.00" width="11.90" height="35.00" fill="#ebeb1e"/>
<rect x="153.40" y="422.00" width="12.20" height="35.00" fill="#ebeb1e"/>
<rect x="111.90" y="457.00" width="12.10" height="61.00" fill="#ebeb1e"/>
<rect x="125.80" y="457.00" width="12.10" height="61.00" fill="#ebeb1e"/>
<rect x="139.70" y="457.00" width="11.90" height="61.00" fill="#ebeb1e"/>
<rect x="153.40" y="457.00" width="12.20" height="61.00" fill="#ebeb1e"/>
<rect x="111.90" y="518.00" width="12.10" height="22.00" fill="#fdcb0e"/>
<rect x="125.80" y="518.00" width="12.10" height="22.00" fill="#ff8c0a"/>
<rect x="139.70" y="518.00" width="11.90" height="22.00" fill="#c8f532"/>
<rect x="153.40" y="518.00" width="12.20" height="22.00" fill="#c8f532"/>
<rect x="111.90" y="540.00" width="12.10" height="21.00" fill="#ebeb1e"/>
<rect x="125.80" y="540.00" width="12.10" height="21.00" fill="#fdcb0e"/>
<rect x="139.70" y="540.00" width="11.90" height="21.00" fill="#c8f532"/>
<rect x="153.40" y="540.00" width="12.20" height="21.00" fill="#9eff5a"/>
<rect x="111.90" y="561.00" width="12.10" height="39.00" fill="#ff8c0a"/>
<rect x="125.80" y="561.00" width="12.10" height="39.00" fill="#ff8c0a"/>
<rect x="139.70" y="561.00" width="11.90" height="39.00" fill="#c8f532"/>
<rect x="153.40" y="561.00" width="12.20" height="39.00" fill="#9eff5a"/>
<rect x="111.90" y="600.00" width="12.10" height="13.00" fill="#fdcb0e"/>
<rect x="125.80" y="600.00" width="12.10" height="13.00" fill="#fdcb0e"/>
<rect x="139.70" y="600.00" width="11.90" height="13.00" fill="#c8f532"/>
<rect x="153.40" y="600.00" width="12.20" height="13.00" fill="#9eff5a"/>
<rect x="111.90" y="613.00" width="12.10" height="8.00" fill="#ff8c0a"/>
<rect x="125.80" y="613.00" width="12.10" height="8.00" fill="#ff8c0a"/>
<rect x="139.70" y="613.00" width="11.90" height="8.00" fill="#9eff5a"/>
<rect x="153.40" y="613.00" width="12.20" height="8.00" fill="#9eff5a"/>
<rect x="111.90" y="621.00" width="12.10" height="23.00" fill="#ebeb1e"/>
<rect x="125.80" y="621.00" width="12.10" height="23.00" fill="#ebeb1e"/>
<rect x="139.70" y="621.00" width="11.90" height="23.00" fill="#c8f532"/>
<rect x="153.40" y="621.00" width="12.20" height="23.00" fill="#c8f532"/>
<rect x="111.90" y="644.00" width="12.10" height="22.00" fill="#9eff5a"/>
<rect x="125.80" y="644.00" width="12.10" height="22.00" fill="#ebeb1e"/>
<rect x="139.70" y="644.00" width="11.90" height="22.00" fill="#c8f532"/>
<rect x="153.40" y="644.00" width="12.20" height="22.00" fill="#9eff5a"/>
<rect x="111.90" y="666.00" width="12.10" height="15.00" fill="#ff8c0a"/>
<rect x="125.80" y="666.00" width="12.10" height="15.00" fill="#ebeb1e"/>
<rect x="139.70" y="666.00" width="11.90" height="15.00" fill="#c8f532"/>
<rect x="153.40" y="666.00" width="12.20" height="15.00" fill="#ff8c0a"/>
<rect x="111.90" y="681.00" width="12.10" height="17.50" fill="#ff8c0a"/>
<rect x="125.80" y="681.00" width="12.10" height="17.50" fill="#fdcb0e"/>
<rect x="139.70" y="681.00" width="11.90" height="17.50" fill="#ebeb1e"/>
<rect x="153.40" y="681.00" width="12.20" height="17.50" fill="#fdcb0e"/>
<rect x="111.90" y="698.50" width="12.10" height="21.50" fill="#f6da14"/>
<rect x="125.80" y="698.50" width="12.10" height="21.50" fill="#c8f532"/>
<rect x="139.70" y="698.50" width="11.90" height="21.50" fill="#c8f532"/>
<rect x="153.40" y="698.50" width="12.20" height="21.50" fill="#f6da14"/>
<g filter="url(#bt)"><rect x="111.90" y="80" width="12.10" height="145" fill="#fff"/><rect x="125.80" y="80" width="12.10" height="145" fill="#fff"/><rect x="139.70" y="80" width="11.90" height="145" fill="#fff"/><rect x="153.40" y="80" width="12.20" height="145" fill="#fff"/><rect x="111.90" y="249.5" width="12.10" height="470.5" fill="#fff"/><rect x="125.80" y="249.5" width="12.10" height="470.5" fill="#fff"/><rect x="139.70" y="249.5" width="11.90" height="470.5" fill="#fff"/><rect x="153.40" y="249.5" width="12.20" height="470.5" fill="#fff"/></g>
<rect x="124.00" y="80" width="1.80" height="640" fill="#1060ff" opacity="0.0"/>
<rect x="137.90" y="80" width="1.80" height="640" fill="#1060ff" opacity="0.0"/>
<rect x="151.60" y="80" width="1.80" height="640" fill="#1060ff" opacity="0.0"/>
<rect x="110.40" y="80" width="1.5" height="146" fill="#50e0d0" opacity="0.55"/>
<rect x="165.60" y="80" width="1.3" height="146" fill="#50e0d0" opacity="0.5"/>
<rect x="110.40" y="249" width="1.5" height="471" fill="#50e0d0" opacity="0.55"/>
<rect x="165.60" y="249" width="1.3" height="471" fill="#50e0d0" opacity="0.5"/>
<rect x="111.90" y="226.50" width="53.70" height="5.00" fill="#870000"/>
<rect x="124.30" y="226.50" width="1.20" height="5.00" fill="#d82808"/>
<rect x="138.20" y="226.50" width="1.20" height="5.00" fill="#d82808"/>
<rect x="151.90" y="226.50" width="1.20" height="5.00" fill="#d82808"/>
<rect x="111.90" y="238.50" width="53.70" height="7.00" fill="#870000"/>
<rect x="124.30" y="238.50" width="1.20" height="7.00" fill="#d82808"/>
<rect x="138.20" y="238.50" width="1.20" height="7.00" fill="#d82808"/>
<rect x="151.90" y="238.50" width="1.20" height="7.00" fill="#d82808"/>
<rect x="0.00" y="86.00" width="176.90" height="4.00" fill="#9eff5a"/>
<rect x="0.00" y="91.00" width="176.90" height="2.00" fill="#ff6212"/>
<rect x="0.00" y="98.00" width="176.90" height="1.00" fill="#46e8d7"/>
<rect x="0.00" y="112.00" width="176.90" height="2.00" fill="#ff6212"/>
<rect x="0.00" y="118.00" width="176.90" height="1.00" fill="#9eff5a"/>
<rect x="0.00" y="120.00" width="176.90" height="1.00" fill="#9eff5a"/>
<rect x="0.00" y="126.00" width="176.90" height="1.00" fill="#9eff5a"/>
<rect x="0.00" y="133.00" width="176.90" height="1.00" fill="#9eff5a"/>
<rect x="0.00" y="136.00" width="176.90" height="1.00" fill="#9eff5a"/>
<rect x="0.00" y="139.00" width="176.90" height="1.00" fill="#9eff5a"/>
<rect x="0.00" y="142.00" width="176.90" height="1.00" fill="#9eff5a"/>
<rect x="0.00" y="150.00" width="176.90" height="1.00" fill="#ff6212"/>
<rect x="0.00" y="151.00" width="176.90" height="3.00" fill="#9eff5a"/>
<rect x="0.00" y="158.00" width="176.90" height="2.00" fill="#9eff5a"/>
<rect x="0.00" y="160.00" width="176.90" height="1.00" fill="#ff6212"/>
<rect x="0.00" y="162.00" width="176.90" height="1.00" fill="#9eff5a"/>
<rect x="0.00" y="165.00" width="176.90" height="2.00" fill="#9eff5a"/>
<rect x="0.00" y="169.00" width="176.90" height="1.00" fill="#ff6212"/>
<rect x="0.00" y="172.00" width="176.90" height="1.00" fill="#9eff5a"/>
<rect x="0.00" y="174.00" width="176.90" height="1.00" fill="#9eff5a"/>
<rect x="0.00" y="175.00" width="176.90" height="1.00" fill="#ff6212"/>
<rect x="0.00" y="176.00" width="176.90" height="1.00" fill="#9eff5a"/>
<rect x="0.00" y="179.00" width="176.90" height="1.00" fill="#9eff5a"/>
<rect x="0.00" y="183.00" width="176.90" height="1.00" fill="#ff6212"/>
<rect x="0.00" y="201.00" width="176.90" height="1.00" fill="#9eff5a"/>
<rect x="0.00" y="203.00" width="176.90" height="1.00" fill="#9eff5a"/>
<rect x="0.00" y="204.00" width="176.90" height="1.00" fill="#ff6212"/>
<rect x="0.00" y="232.00" width="176.90" height="1.00" fill="#9eff5a"/>
<rect x="0.00" y="249.00" width="176.90" height="1.00" fill="#9eff5a"/>
<rect x="0.00" y="251.00" width="176.90" height="1.00" fill="#9eff5a"/>
<rect x="0.00" y="252.00" width="176.90" height="1.00" fill="#ff6212"/>
<rect x="0.00" y="260.00" width="176.90" height="1.00" fill="#9eff5a"/>
<rect x="0.00" y="263.00" width="176.90" height="1.00" fill="#9eff5a"/>
<rect x="0.00" y="265.00" width="176.90" height="1.00" fill="#ff6212"/>
<rect x="0.00" y="266.00" width="176.90" height="1.00" fill="#9eff5a"/>
<rect x="0.00" y="269.00" width="176.90" height="1.00" fill="#9eff5a"/>
<rect x="0.00" y="273.00" width="176.90" height="1.00" fill="#9eff5a"/>
<rect x="0.00" y="278.00" width="176.90" height="1.00" fill="#9eff5a"/>
<rect x="0.00" y="286.00" width="176.90" height="1.00" fill="#9eff5a"/>
<rect x="0.00" y="292.00" width="176.90" height="1.00" fill="#9eff5a"/>
<rect x="0.00" y="307.00" width="176.90" height="1.00" fill="#9eff5a"/>
<rect x="0.00" y="310.00" width="176.90" height="1.00" fill="#9eff5a"/>
<rect x="0.00" y="313.00" width="176.90" height="1.00" fill="#9eff5a"/>
<rect x="0.00" y="323.00" width="176.90" height="1.00" fill="#9eff5a"/>
<rect x="0.00" y="326.00" width="176.90" height="1.00" fill="#ff6212"/>
<rect x="0.00" y="328.00" width="176.90" height="34.00" fill="#9eff5a"/>
<rect x="0.00" y="364.00" width="176.90" height="1.00" fill="#46e8d7"/>
<rect x="0.00" y="376.00" width="176.90" height="1.00" fill="#ff6212"/>
<rect x="0.00" y="378.00" width="176.90" height="1.00" fill="#ff6212"/>
<rect x="0.00" y="386.00" width="176.90" height="1.00" fill="#9eff5a"/>
<rect x="0.00" y="394.00" width="176.90" height="1.00" fill="#ff6212"/>
<rect x="0.00" y="402.00" width="176.90" height="3.00" fill="#9eff5a"/>
<rect x="0.00" y="405.00" width="176.90" height="1.00" fill="#ff6212"/>
<rect x="0.00" y="408.00" width="176.90" height="2.00" fill="#9eff5a"/>
<rect x="0.00" y="410.00" width="176.90" height="1.00" fill="#000096"/>
<rect x="0.00" y="411.00" width="176.90" height="3.00" fill="#9eff5a"/>
<rect x="0.00" y="427.00" width="176.90" height="2.00" fill="#ff6212"/>
<rect x="0.00" y="438.00" width="176.90" height="1.00" fill="#9eff5a"/>
<rect x="0.00" y="445.00" width="176.90" height="1.00" fill="#9eff5a"/>
<rect x="0.00" y="459.00" width="176.90" height="2.00" fill="#ff6212"/>
<rect x="0.00" y="462.00" width="176.90" height="1.00" fill="#9eff5a"/>
<rect x="0.00" y="466.00" width="176.90" height="1.00" fill="#ff6212"/>
<rect x="0.00" y="483.00" width="176.90" height="1.00" fill="#9eff5a"/>
<rect x="0.00" y="485.00" width="176.90" height="1.00" fill="#9eff5a"/>
<rect x="0.00" y="496.00" width="176.90" height="1.00" fill="#ff6212"/>
<rect x="0.00" y="498.00" width="176.90" height="1.00" fill="#ff6212"/>
<rect x="0.00" y="502.00" width="176.90" height="2.00" fill="#ff6212"/>
<rect x="0.00" y="510.00" width="176.90" height="2.00" fill="#9eff5a"/>
<rect x="0.00" y="512.00" width="176.90" height="2.00" fill="#ff6212"/>
<rect x="0.00" y="515.00" width="176.90" height="1.00" fill="#ff6212"/>
<rect x="0.00" y="516.00" width="176.90" height="2.00" fill="#9eff5a"/>
<rect x="0.00" y="520.00" width="176.90" height="1.00" fill="#9eff5a"/>
<rect x="0.00" y="522.00" width="176.90" height="1.00" fill="#9eff5a"/>
<rect x="0.00" y="529.00" width="176.90" height="1.00" fill="#9eff5a"/>
<rect x="0.00" y="533.00" width="176.90" height="1.00" fill="#9eff5a"/>
<rect x="0.00" y="544.00" width="176.90" height="1.00" fill="#9eff5a"/>
<rect x="0.00" y="557.00" width="176.90" height="1.00" fill="#9eff5a"/>
<rect x="0.00" y="563.00" width="176.90" height="1.00" fill="#9eff5a"/>
<rect x="0.00" y="573.00" width="176.90" height="1.00" fill="#ff6212"/>
<rect x="0.00" y="577.00" width="176.90" height="1.00" fill="#ff6212"/>
<rect x="0.00" y="595.00" width="176.90" height="1.00" fill="#9eff5a"/>
<rect x="0.00" y="598.00" width="176.90" height="1.00" fill="#9eff5a"/>
<rect x="0.00" y="603.00" width="176.90" height="1.00" fill="#9eff5a"/>
<rect x="0.00" y="608.00" width="176.90" height="1.00" fill="#9eff5a"/>
<rect x="0.00" y="611.00" width="176.90" height="3.00" fill="#9eff5a"/>
<rect x="0.00" y="620.00" width="176.90" height="1.00" fill="#9eff5a"/>
<rect x="0.00" y="621.00" width="176.90" height="1.00" fill="#000096"/>
<rect x="0.00" y="622.00" width="176.90" height="1.00" fill="#9eff5a"/>
<rect x="0.00" y="625.00" width="176.90" height="1.00" fill="#9eff5a"/>
<rect x="0.00" y="627.00" width="176.90" height="1.00" fill="#9eff5a"/>
<rect x="0.00" y="630.00" width="176.90" height="2.00" fill="#9eff5a"/>
<rect x="0.00" y="636.00" width="176.90" height="1.00" fill="#9eff5a"/>
<rect x="0.00" y="639.00" width="176.90" height="1.00" fill="#9eff5a"/>
<rect x="0.00" y="642.00" width="176.90" height="1.00" fill="#9eff5a"/>
<rect x="0.00" y="651.00" width="176.90" height="1.00" fill="#9eff5a"/>
<rect x="0.00" y="664.00" width="176.90" height="1.00" fill="#9eff5a"/>
<rect x="0.00" y="671.00" width="176.90" height="1.00" fill="#9eff5a"/>
<rect x="0.00" y="673.00" width="176.90" height="1.00" fill="#9eff5a"/>
<rect x="0.00" y="679.00" width="176.90" height="2.00" fill="#9eff5a"/>
<rect x="0.00" y="683.00" width="176.90" height="1.00" fill="#ff6212"/>
<rect x="0.00" y="699.00" width="176.90" height="1.00" fill="#ff6212"/>
<rect x="0.00" y="707.00" width="176.90" height="1.00" fill="#9eff5a"/>
<rect x="0.00" y="715.00" width="176.90" height="1.00" fill="#ff6212"/>
<rect x="0.00" y="717.00" width="176.90" height="1.00" fill="#9eff5a"/>
<rect x="0.00" y="424.00" width="176.90" height="1.00" fill="url(#ag)"/>
<rect x="0.00" y="429.00" width="176.90" height="1.00" fill="url(#ag)"/>
<rect x="0.00" y="432.00" width="176.90" height="1.00" fill="url(#ag)"/>
<rect x="0.00" y="435.00" width="176.90" height="1.00" fill="url(#ag)"/>
<rect x="0.00" y="439.00" width="176.90" height="2.00" fill="url(#ag)"/>
<rect x="0.00" y="448.00" width="176.90" height="1.00" fill="url(#ag)"/>
<rect x="0.00" y="453.00" width="176.90" height="1.00" fill="url(#ag)"/>
<rect x="0.00" y="456.00" width="176.90" height="3.00" fill="url(#ag)"/>
<rect x="0.00" y="465.00" width="176.90" height="1.00" fill="url(#ag)"/>
<rect x="0.00" y="467.00" width="176.90" height="1.00" fill="url(#ag)"/>
<rect x="0.00" y="477.00" width="176.90" height="1.00" fill="url(#ag)"/>
<rect x="0.00" y="480.00" width="176.90" height="1.00" fill="url(#ag)"/>
<rect x="0.00" y="488.00" width="176.90" height="1.00" fill="url(#ag)"/>
<rect x="0.00" y="491.00" width="176.90" height="3.00" fill="url(#ag)"/>
<rect x="0.00" y="495.00" width="176.90" height="1.00" fill="url(#ag)"/>
<rect x="0.00" y="501.00" width="176.90" height="1.00" fill="url(#ag)"/>
<rect x="0.00" y="504.00" width="176.90" height="1.00" fill="url(#ag)"/>
<rect x="0.00" y="509.00" width="176.90" height="1.00" fill="url(#ag)"/>
</g>
<rect x="344" y="80" width="1" height="641" fill="#000"/><rect x="520" y="80" width="1" height="641" fill="#000"/><rect x="344" y="80" width="177" height="1" fill="#000"/><rect x="344" y="720" width="177" height="1" fill="#000"/><clipPath id="cp2"><rect x="-0.20" y="80" width="178" height="641"/></clipPath>
<g transform="translate(556.20,0)" clip-path="url(#cp2)">
<rect x="0.00" y="80.00" width="176.90" height="640.00" fill="#0848e8" filter="url(#nz)"/>
<rect x="0.00" y="80.00" width="110.90" height="640.00" fill="#fff" filter="url(#stk)"/>
<rect x="0.00" y="145.00" width="176.90" height="1.00" fill="#30c8e8" opacity="0.7"/>
<line x1="1" y1="145.50" x2="176.9" y2="145.50" stroke="#ffa818" stroke-width="1.00" stroke-dasharray="5 2 3 3 7 2 2 4"/>
<line x1="3" y1="145.50" x2="176.9" y2="145.50" stroke="#f03010" stroke-width="1.00" stroke-dasharray="2 7 1 5 2 9"/>
<rect x="0.00" y="148.00" width="176.90" height="1.00" fill="#30c8e8" opacity="0.7"/>
<line x1="1" y1="148.50" x2="176.9" y2="148.50" stroke="#ffa818" stroke-width="1.00" stroke-dasharray="5 2 3 3 7 2 2 4"/>
<line x1="3" y1="148.50" x2="176.9" y2="148.50" stroke="#f03010" stroke-width="1.00" stroke-dasharray="2 7 1 5 2 9"/>
<rect x="0.00" y="212.00" width="176.90" height="1.00" fill="#30c8e8" opacity="0.6"/>
<line x1="3" y1="212.50" x2="176.9" y2="212.50" stroke="#f04010" stroke-width="1.00" stroke-dasharray="2 11 1 8 2 14"/>
<rect x="0.00" y="399.00" width="176.90" height="1.00" fill="#30c8e8" opacity="0.6"/>
<line x1="3" y1="399.50" x2="176.9" y2="399.50" stroke="#f04010" stroke-width="1.00" stroke-dasharray="2 11 1 8 2 14"/>
<rect x="0.00" y="227.00" width="176.90" height="1.00" fill="#9eff5a"/>
<rect x="0.00" y="233.00" width="176.90" height="2.00" fill="#870000"/>
<rect x="0.00" y="235.00" width="176.90" height="1.00" fill="#ff6212"/>
<rect x="0.00" y="236.00" width="176.90" height="2.00" fill="#fdcb0e"/>
<rect x="0.00" y="238.00" width="176.90" height="1.00" fill="#ff6212"/>
<g filter="url(#nzc)"><rect x="0.00" y="228.00" width="176.90" height="4.00" fill="#1ea0f5"/><rect x="0.00" y="240.00" width="176.90" height="6.00" fill="#1ea0f5"/><rect x="0.00" y="414.00" width="176.90" height="6.00" fill="#1ea0f5"/></g>
<rect x="84" y="127" width="28" height="6" fill="url(#gl)"/><rect x="85" y="139" width="27" height="10" fill="url(#gl)"/><rect x="93" y="206" width="19" height="21" fill="url(#gl)"/><rect x="0" y="420" width="112" height="77" fill="#fff" filter="url(#stk2)"/><rect x="44.5" y="330" width="1" height="390" fill="#35d0d0" opacity="0.5"/><rect x="56" y="250" width="1" height="470" fill="#35d0d0" opacity="0.6"/><rect x="83" y="330" width="1" height="390" fill="#35d0d0" opacity="0.55"/><rect x="97" y="330" width="1" height="390" fill="#35d0d0" opacity="0.55"/>
<rect x="111.90" y="80.00" width="12.10" height="13.00" fill="#fdcb0e"/>
<rect x="125.80" y="80.00" width="12.10" height="13.00" fill="#fdcb0e"/>
<rect x="139.70" y="80.00" width="11.90" height="13.00" fill="#9eff5a"/>
<rect x="153.40" y="80.00" width="12.20" height="13.00" fill="#ebeb1e"/>
<rect x="111.90" y="93.00" width="12.10" height="19.00" fill="#c8f532"/>
<rect x="125.80" y="93.00" width="12.10" height="19.00" fill="#c8f532"/>
<rect x="139.70" y="93.00" width="11.90" height="19.00" fill="#ebeb1e"/>
<rect x="153.40" y="93.00" width="12.20" height="19.00" fill="#c8f532"/>
<rect x="111.90" y="112.00" width="12.10" height="8.00" fill="#fdcb0e"/>
<rect x="125.80" y="112.00" width="12.10" height="8.00" fill="#ebeb1e"/>
<rect x="139.70" y="112.00" width="11.90" height="8.00" fill="#ebeb1e"/>
<rect x="153.40" y="112.00" width="12.20" height="8.00" fill="#ebeb1e"/>
<rect x="111.90" y="120.00" width="12.10" height="7.00" fill="#ebeb1e"/>
<rect x="125.80" y="120.00" width="12.10" height="7.00" fill="#fdcb0e"/>
<rect x="139.70" y="120.00" width="11.90" height="7.00" fill="#fdcb0e"/>
<rect x="153.40" y="120.00" width="12.20" height="7.00" fill="#ebeb1e"/>
<rect x="111.90" y="127.00" width="12.10" height="6.00" fill="#ff8c0a"/>
<rect x="125.80" y="127.00" width="12.10" height="6.00" fill="#ff8c0a"/>
<rect x="139.70" y="127.00" width="11.90" height="6.00" fill="#ff8c0a"/>
<rect x="153.40" y="127.00" width="12.20" height="6.00" fill="#fdcb0e"/>
<rect x="111.90" y="133.00" width="12.10" height="10.00" fill="#ff8c0a"/>
<rect x="125.80" y="133.00" width="12.10" height="10.00" fill="#ff8c0a"/>
<rect x="139.70" y="133.00" width="11.90" height="10.00" fill="#ff8c0a"/>
<rect x="153.40" y="133.00" width="12.20" height="10.00" fill="#ff8c0a"/>
<rect x="111.90" y="143.00" width="12.10" height="6.00" fill="#ff8c0a"/>
<rect x="125.80" y="143.00" width="12.10" height="6.00" fill="#eb1e00"/>
<rect x="139.70" y="143.00" width="11.90" height="6.00" fill="#eb1e00"/>
<rect x="153.40" y="143.00" width="12.20" height="6.00" fill="#ff8c0a"/>
<rect x="111.90" y="149.00" width="12.10" height="12.00" fill="#ebeb1e"/>
<rect x="125.80" y="149.00" width="12.10" height="12.00" fill="#fdcb0e"/>
<rect x="139.70" y="149.00" width="11.90" height="12.00" fill="#ebeb1e"/>
<rect x="153.40" y="149.00" width="12.20" height="12.00" fill="#ebeb1e"/>
<rect x="111.90" y="161.00" width="12.10" height="23.50" fill="#ebeb1e"/>
<rect x="125.80" y="161.00" width="12.10" height="23.50" fill="#fdcb0e"/>
<rect x="139.70" y="161.00" width="11.90" height="23.50" fill="#ebeb1e"/>
<rect x="153.40" y="161.00" width="12.20" height="23.50" fill="#ebeb1e"/>
<rect x="111.90" y="184.50" width="12.10" height="9.10" fill="#fdcb0e"/>
<rect x="125.80" y="184.50" width="12.10" height="9.10" fill="#fdcb0e"/>
<rect x="139.70" y="184.50" width="11.90" height="9.10" fill="#ebeb1e"/>
<rect x="153.40" y="184.50" width="12.20" height="9.10" fill="#fdcb0e"/>
<rect x="111.90" y="193.60" width="12.10" height="11.40" fill="#ebeb1e"/>
<rect x="125.80" y="193.60" width="12.10" height="11.40" fill="#ebeb1e"/>
<rect x="139.70" y="193.60" width="11.90" height="11.40" fill="#ebeb1e"/>
<rect x="153.40" y="193.60" width="12.20" height="11.40" fill="#ebeb1e"/>
<rect x="111.90" y="205.00" width="12.10" height="4.00" fill="#fdcb0e"/>
<rect x="125.80" y="205.00" width="12.10" height="4.00" fill="#fdcb0e"/>
<rect x="139.70" y="205.00" width="11.90" height="4.00" fill="#fdcb0e"/>
<rect x="153.40" y="205.00" width="12.20" height="4.00" fill="#fdcb0e"/>
<rect x="111.90" y="209.00" width="12.10" height="6.00" fill="#ff8c0a"/>
<rect x="125.80" y="209.00" width="12.10" height="6.00" fill="#ff8c0a"/>
<rect x="139.70" y="209.00" width="11.90" height="6.00" fill="#ff8c0a"/>
<rect x="153.40" y="209.00" width="12.20" height="6.00" fill="#ff8c0a"/>
<rect x="111.90" y="215.00" width="12.10" height="11.50" fill="#eb1e00"/>
<rect x="125.80" y="215.00" width="12.10" height="11.50" fill="#eb1e00"/>
<rect x="139.70" y="215.00" width="11.90" height="11.50" fill="#eb1e00"/>
<rect x="153.40" y="215.00" width="12.20" height="11.50" fill="#eb1e00"/>
<rect x="111.90" y="226.50" width="12.10" height="19.00" fill="#870000"/>
<rect x="125.80" y="226.50" width="12.10" height="19.00" fill="#870000"/>
<rect x="139.70" y="226.50" width="11.90" height="19.00" fill="#870000"/>
<rect x="153.40" y="226.50" width="12.20" height="19.00" fill="#870000"/>
<rect x="111.90" y="245.50" width="12.10" height="3.50" fill="#eb1e00"/>
<rect x="125.80" y="245.50" width="12.10" height="3.50" fill="#eb1e00"/>
<rect x="139.70" y="245.50" width="11.90" height="3.50" fill="#eb1e00"/>
<rect x="153.40" y="245.50" width="12.20" height="3.50" fill="#eb1e00"/>
<rect x="111.90" y="249.00" width="12.10" height="16.00" fill="#fdcb0e"/>
<rect x="125.80" y="249.00" width="12.10" height="16.00" fill="#ebeb1e"/>
<rect x="139.70" y="249.00" width="11.90" height="16.00" fill="#ebeb1e"/>
<rect x="153.40" y="249.00" width="12.20" height="16.00" fill="#ebeb1e"/>
<rect x="111.90" y="265.00" width="12.10" height="27.00" fill="#c8f532"/>
<rect x="125.80" y="265.00" width="12.10" height="27.00" fill="#ebeb1e"/>
<rect x="139.70" y="265.00" width="11.90" height="27.00" fill="#c8f532"/>
<rect x="153.40" y="265.00" width="12.20" height="27.00" fill="#c8f532"/>
<rect x="111.90" y="292.00" width="12.10" height="11.00" fill="#ff8c0a"/>
<rect x="125.80" y="292.00" width="12.10" height="11.00" fill="#fdcb0e"/>
<rect x="139.70" y="292.00" width="11.90" height="11.00" fill="#ebeb1e"/>
<rect x="153.40" y="292.00" width="12.20" height="11.00" fill="#fdcb0e"/>
<rect x="111.90" y="303.00" width="12.10" height="25.00" fill="#ebeb1e"/>
<rect x="125.80" y="303.00" width="12.10" height="25.00" fill="#ebeb1e"/>
<rect x="139.70" y="303.00" width="11.90" height="25.00" fill="#c8f532"/>
<rect x="153.40" y="303.00" width="12.20" height="25.00" fill="#c8f532"/>
<rect x="111.90" y="362.00" width="12.10" height="40.00" fill="#fdcb0e"/>
<rect x="125.80" y="362.00" width="12.10" height="40.00" fill="#fdcb0e"/>
<rect x="139.70" y="362.00" width="11.90" height="40.00" fill="#ebeb1e"/>
<rect x="153.40" y="362.00" width="12.20" height="40.00" fill="#c8f532"/>
<rect x="111.90" y="402.00" width="12.10" height="12.00" fill="#fdcb0e"/>
<rect x="125.80" y="402.00" width="12.10" height="12.00" fill="#fdcb0e"/>
<rect x="139.70" y="402.00" width="11.90" height="12.00" fill="#ebeb1e"/>
<rect x="153.40" y="402.00" width="12.20" height="12.00" fill="#ebeb1e"/>
<rect x="111.90" y="414.00" width="12.10" height="13.00" fill="#ff8c0a"/>
<rect x="125.80" y="414.00" width="12.10" height="13.00" fill="#ff8c0a"/>
<rect x="139.70" y="414.00" width="11.90" height="13.00" fill="#ebeb1e"/>
<rect x="153.40" y="414.00" width="12.20" height="13.00" fill="#ebeb1e"/>
<rect x="111.90" y="427.00" width="12.10" height="32.00" fill="#ebeb1e"/>
<rect x="125.80" y="427.00" width="12.10" height="32.00" fill="#c8f532"/>
<rect x="139.70" y="427.00" width="11.90" height="32.00" fill="#ebeb1e"/>
<rect x="153.40" y="427.00" width="12.20" height="32.00" fill="#ebeb1e"/>
<rect x="111.90" y="459.00" width="12.10" height="11.00" fill="#ebeb1e"/>
<rect x="125.80" y="459.00" width="12.10" height="11.00" fill="#fdcb0e"/>
<rect x="139.70" y="459.00" width="11.90" height="11.00" fill="#ebeb1e"/>
<rect x="153.40" y="459.00" width="12.20" height="11.00" fill="#c8f532"/>
<rect x="111.90" y="470.00" width="12.10" height="40.00" fill="#c8f532"/>
<rect x="125.80" y="470.00" width="12.10" height="40.00" fill="#ebeb1e"/>
<rect x="139.70" y="470.00" width="11.90" height="40.00" fill="#ebeb1e"/>
<rect x="153.40" y="470.00" width="12.20" height="40.00" fill="#c8f532"/>
<rect x="111.90" y="510.00" width="12.10" height="10.00" fill="#fdcb0e"/>
<rect x="125.80" y="510.00" width="12.10" height="10.00" fill="#ebeb1e"/>
<rect x="139.70" y="510.00" width="11.90" height="10.00" fill="#ebeb1e"/>
<rect x="153.40" y="510.00" width="12.20" height="10.00" fill="#c8f532"/>
<rect x="111.90" y="520.00" width="12.10" height="10.00" fill="#fdcb0e"/>
<rect x="125.80" y="520.00" width="12.10" height="10.00" fill="#fdcb0e"/>
<rect x="139.70" y="520.00" width="11.90" height="10.00" fill="#c8f532"/>
<rect x="153.40" y="520.00" width="12.20" height="10.00" fill="#9eff5a"/>
<rect x="111.90" y="530.00" width="12.10" height="28.00" fill="#ebeb1e"/>
<rect x="125.80" y="530.00" width="12.10" height="28.00" fill="#fdcb0e"/>
<rect x="139.70" y="530.00" width="11.90" height="28.00" fill="#c8f532"/>
<rect x="153.40" y="530.00" width="12.20" height="28.00" fill="#9eff5a"/>
<rect x="111.90" y="558.00" width="12.10" height="13.00" fill="#ff8c0a"/>
<rect x="125.80" y="558.00" width="12.10" height="13.00" fill="#ff8c0a"/>
<rect x="139.70" y="558.00" width="11.90" height="13.00" fill="#c8f532"/>
<rect x="153.40" y="558.00" width="12.20" height="13.00" fill="#9eff5a"/>
<rect x="111.90" y="571.00" width="12.10" height="29.00" fill="#ebeb1e"/>
<rect x="125.80" y="571.00" width="12.10" height="29.00" fill="#ebeb1e"/>
<rect x="139.70" y="571.00" width="11.90" height="29.00" fill="#c8f532"/>
<rect x="153.40" y="571.00" width="12.20" height="29.00" fill="#9eff5a"/>
<rect x="111.90" y="600.00" width="12.10" height="60.00" fill="#ebeb1e"/>
<rect x="125.80" y="600.00" width="12.10" height="60.00" fill="#ebeb1e"/>
<rect x="139.70" y="600.00" width="11.90" height="60.00" fill="#c8f532"/>
<rect x="153.40" y="600.00" width="12.20" height="60.00" fill="#9eff5a"/>
<rect x="111.90" y="660.00" width="12.10" height="16.00" fill="#ff8c0a"/>
<rect x="125.80" y="660.00" width="12.10" height="16.00" fill="#fdcb0e"/>
<rect x="139.70" y="660.00" width="11.90" height="16.00" fill="#c8f532"/>
<rect x="153.40" y="660.00" width="12.20" height="16.00" fill="#9eff5a"/>
<rect x="111.90" y="676.00" width="12.10" height="18.00" fill="#fdcb0e"/>
<rect x="125.80" y="676.00" width="12.10" height="18.00" fill="#fdcb0e"/>
<rect x="139.70" y="676.00" width="11.90" height="18.00" fill="#c8f532"/>
<rect x="153.40" y="676.00" width="12.20" height="18.00" fill="#9eff5a"/>
<rect x="111.90" y="694.00" width="12.10" height="26.00" fill="#ebeb1e"/>
<rect x="125.80" y="694.00" width="12.10" height="26.00" fill="#ebeb1e"/>
<rect x="139.70" y="694.00" width="11.90" height="26.00" fill="#c8f532"/>
<rect x="153.40" y="694.00" width="12.20" height="26.00" fill="#9eff5a"/>
<g filter="url(#bt)"><rect x="111.90" y="80" width="12.10" height="145" fill="#fff"/><rect x="125.80" y="80" width="12.10" height="145" fill="#fff"/><rect x="139.70" y="80" width="11.90" height="145" fill="#fff"/><rect x="153.40" y="80" width="12.20" height="145" fill="#fff"/><rect x="111.90" y="249.5" width="12.10" height="470.5" fill="#fff"/><rect x="125.80" y="249.5" width="12.10" height="470.5" fill="#fff"/><rect x="139.70" y="249.5" width="11.90" height="470.5" fill="#fff"/><rect x="153.40" y="249.5" width="12.20" height="470.5" fill="#fff"/></g>
<rect x="124.00" y="80" width="1.80" height="640" fill="#1060ff" opacity="0.0"/>
<rect x="137.90" y="80" width="1.80" height="640" fill="#1060ff" opacity="0.0"/>
<rect x="151.60" y="80" width="1.80" height="640" fill="#1060ff" opacity="0.0"/>
<rect x="110.40" y="80" width="1.5" height="146" fill="#50e0d0" opacity="0.55"/>
<rect x="165.60" y="80" width="1.3" height="146" fill="#50e0d0" opacity="0.5"/>
<rect x="110.40" y="249" width="1.5" height="471" fill="#50e0d0" opacity="0.55"/>
<rect x="165.60" y="249" width="1.3" height="471" fill="#50e0d0" opacity="0.5"/>
<rect x="111.90" y="226.50" width="53.70" height="19.00" fill="#870000"/>
<rect x="124.30" y="226.50" width="1.20" height="19.00" fill="#d82808"/>
<rect x="138.20" y="226.50" width="1.20" height="19.00" fill="#d82808"/>
<rect x="151.90" y="226.50" width="1.20" height="19.00" fill="#d82808"/>
<rect x="0.00" y="86.00" width="176.90" height="4.00" fill="#9eff5a"/>
<rect x="0.00" y="91.00" width="176.90" height="2.00" fill="#ff6212"/>
<rect x="0.00" y="98.00" width="176.90" height="1.00" fill="#46e8d7"/>
<rect x="0.00" y="112.00" width="176.90" height="2.00" fill="#ff6212"/>
<rect x="0.00" y="118.00" width="176.90" height="1.00" fill="#9eff5a"/>
<rect x="0.00" y="120.00" width="176.90" height="1.00" fill="#9eff5a"/>
<rect x="0.00" y="126.00" width="176.90" height="1.00" fill="#9eff5a"/>
<rect x="0.00" y="133.00" width="176.90" height="1.00" fill="#9eff5a"/>
<rect x="0.00" y="136.00" width="176.90" height="1.00" fill="#9eff5a"/>
<rect x="0.00" y="139.00" width="176.90" height="1.00" fill="#9eff5a"/>
<rect x="0.00" y="142.00" width="176.90" height="1.00" fill="#9eff5a"/>
<rect x="0.00" y="150.00" width="176.90" height="1.00" fill="#ff6212"/>
<rect x="0.00" y="151.00" width="176.90" height="3.00" fill="#9eff5a"/>
<rect x="0.00" y="158.00" width="176.90" height="2.00" fill="#9eff5a"/>
<rect x="0.00" y="160.00" width="176.90" height="1.00" fill="#ff6212"/>
<rect x="0.00" y="162.00" width="176.90" height="1.00" fill="#9eff5a"/>
<rect x="0.00" y="165.00" width="176.90" height="2.00" fill="#9eff5a"/>
<rect x="0.00" y="169.00" width="176.90" height="1.00" fill="#ff6212"/>
<rect x="0.00" y="172.00" width="176.90" height="1.00" fill="#9eff5a"/>
<rect x="0.00" y="174.00" width="176.90" height="1.00" fill="#9eff5a"/>
<rect x="0.00" y="175.00" width="176.90" height="1.00" fill="#ff6212"/>
<rect x="0.00" y="176.00" width="176.90" height="1.00" fill="#9eff5a"/>
<rect x="0.00" y="179.00" width="176.90" height="1.00" fill="#9eff5a"/>
<rect x="0.00" y="183.00" width="176.90" height="1.00" fill="#ff6212"/>
<rect x="0.00" y="201.00" width="176.90" height="1.00" fill="#9eff5a"/>
<rect x="0.00" y="203.00" width="176.90" height="1.00" fill="#9eff5a"/>
<rect x="0.00" y="204.00" width="176.90" height="1.00" fill="#ff6212"/>
<rect x="0.00" y="232.00" width="176.90" height="1.00" fill="#9eff5a"/>
<rect x="0.00" y="249.00" width="176.90" height="1.00" fill="#9eff5a"/>
<rect x="0.00" y="251.00" width="176.90" height="1.00" fill="#9eff5a"/>
<rect x="0.00" y="252.00" width="176.90" height="1.00" fill="#ff6212"/>
<rect x="0.00" y="260.00" width="176.90" height="1.00" fill="#9eff5a"/>
<rect x="0.00" y="263.00" width="176.90" height="1.00" fill="#9eff5a"/>
<rect x="0.00" y="265.00" width="176.90" height="1.00" fill="#ff6212"/>
<rect x="0.00" y="266.00" width="176.90" height="1.00" fill="#9eff5a"/>
<rect x="0.00" y="269.00" width="176.90" height="1.00" fill="#9eff5a"/>
<rect x="0.00" y="273.00" width="176.90" height="1.00" fill="#9eff5a"/>
<rect x="0.00" y="278.00" width="176.90" height="1.00" fill="#9eff5a"/>
<rect x="0.00" y="286.00" width="176.90" height="1.00" fill="#9eff5a"/>
<rect x="0.00" y="292.00" width="176.90" height="1.00" fill="#9eff5a"/>
<rect x="0.00" y="307.00" width="176.90" height="1.00" fill="#9eff5a"/>
<rect x="0.00" y="310.00" width="176.90" height="1.00" fill="#9eff5a"/>
<rect x="0.00" y="313.00" width="176.90" height="1.00" fill="#9eff5a"/>
<rect x="0.00" y="323.00" width="176.90" height="1.00" fill="#9eff5a"/>
<rect x="0.00" y="326.00" width="176.90" height="1.00" fill="#ff6212"/>
<rect x="0.00" y="328.00" width="176.90" height="34.00" fill="#9eff5a"/>
<rect x="0.00" y="364.00" width="176.90" height="1.00" fill="#46e8d7"/>
<rect x="0.00" y="376.00" width="176.90" height="1.00" fill="#ff6212"/>
<rect x="0.00" y="378.00" width="176.90" height="1.00" fill="#ff6212"/>
<rect x="0.00" y="386.00" width="176.90" height="1.00" fill="#9eff5a"/>
<rect x="0.00" y="394.00" width="176.90" height="1.00" fill="#ff6212"/>
<rect x="0.00" y="402.00" width="176.90" height="3.00" fill="#9eff5a"/>
<rect x="0.00" y="405.00" width="176.90" height="1.00" fill="#ff6212"/>
<rect x="0.00" y="408.00" width="176.90" height="2.00" fill="#9eff5a"/>
<rect x="0.00" y="410.00" width="176.90" height="1.00" fill="#000096"/>
<rect x="0.00" y="411.00" width="176.90" height="3.00" fill="#9eff5a"/>
<rect x="0.00" y="427.00" width="176.90" height="2.00" fill="#ff6212"/>
<rect x="0.00" y="438.00" width="176.90" height="1.00" fill="#9eff5a"/>
<rect x="0.00" y="445.00" width="176.90" height="1.00" fill="#9eff5a"/>
<rect x="0.00" y="459.00" width="176.90" height="2.00" fill="#ff6212"/>
<rect x="0.00" y="462.00" width="176.90" height="1.00" fill="#9eff5a"/>
<rect x="0.00" y="466.00" width="176.90" height="1.00" fill="#ff6212"/>
<rect x="0.00" y="483.00" width="176.90" height="1.00" fill="#9eff5a"/>
<rect x="0.00" y="485.00" width="176.90" height="1.00" fill="#9eff5a"/>
<rect x="0.00" y="496.00" width="176.90" height="1.00" fill="#ff6212"/>
<rect x="0.00" y="498.00" width="176.90" height="1.00" fill="#ff6212"/>
<rect x="0.00" y="502.00" width="176.90" height="2.00" fill="#ff6212"/>
<rect x="0.00" y="510.00" width="176.90" height="2.00" fill="#9eff5a"/>
<rect x="0.00" y="512.00" width="176.90" height="2.00" fill="#ff6212"/>
<rect x="0.00" y="515.00" width="176.90" height="1.00" fill="#ff6212"/>
<rect x="0.00" y="516.00" width="176.90" height="2.00" fill="#9eff5a"/>
<rect x="0.00" y="520.00" width="176.90" height="1.00" fill="#9eff5a"/>
<rect x="0.00" y="522.00" width="176.90" height="1.00" fill="#9eff5a"/>
<rect x="0.00" y="529.00" width="176.90" height="1.00" fill="#9eff5a"/>
<rect x="0.00" y="533.00" width="176.90" height="1.00" fill="#9eff5a"/>
<rect x="0.00" y="544.00" width="176.90" height="1.00" fill="#9eff5a"/>
<rect x="0.00" y="557.00" width="176.90" height="1.00" fill="#9eff5a"/>
<rect x="0.00" y="563.00" width="176.90" height="1.00" fill="#9eff5a"/>
<rect x="0.00" y="573.00" width="176.90" height="1.00" fill="#ff6212"/>
<rect x="0.00" y="577.00" width="176.90" height="1.00" fill="#ff6212"/>
<rect x="0.00" y="595.00" width="176.90" height="1.00" fill="#9eff5a"/>
<rect x="0.00" y="598.00" width="176.90" height="1.00" fill="#9eff5a"/>
<rect x="0.00" y="603.00" width="176.90" height="1.00" fill="#9eff5a"/>
<rect x="0.00" y="608.00" width="176.90" height="1.00" fill="#9eff5a"/>
<rect x="0.00" y="611.00" width="176.90" height="3.00" fill="#9eff5a"/>
<rect x="0.00" y="620.00" width="176.90" height="1.00" fill="#9eff5a"/>
<rect x="0.00" y="622.00" width="176.90" height="1.00" fill="#9eff5a"/>
<rect x="0.00" y="625.00" width="176.90" height="1.00" fill="#9eff5a"/>
<rect x="0.00" y="627.00" width="176.90" height="1.00" fill="#9eff5a"/>
<rect x="0.00" y="630.00" width="176.90" height="2.00" fill="#9eff5a"/>
<rect x="0.00" y="636.00" width="176.90" height="1.00" fill="#9eff5a"/>
<rect x="0.00" y="639.00" width="176.90" height="1.00" fill="#9eff5a"/>
<rect x="0.00" y="642.00" width="176.90" height="1.00" fill="#9eff5a"/>
<rect x="0.00" y="651.00" width="176.90" height="1.00" fill="#9eff5a"/>
<rect x="0.00" y="664.00" width="176.90" height="1.00" fill="#9eff5a"/>
<rect x="0.00" y="671.00" width="176.90" height="1.00" fill="#9eff5a"/>
<rect x="0.00" y="673.00" width="176.90" height="1.00" fill="#9eff5a"/>
<rect x="0.00" y="679.00" width="176.90" height="2.00" fill="#9eff5a"/>
<rect x="0.00" y="683.00" width="176.90" height="1.00" fill="#ff6212"/>
<rect x="0.00" y="699.00" width="176.90" height="1.00" fill="#ff6212"/>
<rect x="0.00" y="707.00" width="176.90" height="1.00" fill="#9eff5a"/>
<rect x="0.00" y="715.00" width="176.90" height="1.00" fill="#ff6212"/>
<rect x="0.00" y="717.00" width="176.90" height="1.00" fill="#9eff5a"/>
</g>
<rect x="556" y="80" width="1" height="641" fill="#000"/><rect x="733" y="80" width="1" height="641" fill="#000"/><rect x="556" y="80" width="178" height="1" fill="#000"/><rect x="556" y="720" width="178" height="1" fill="#000"/><clipPath id="cp3"><rect x="-0.60" y="80" width="178" height="641"/></clipPath>
<g transform="translate(768.60,0)" clip-path="url(#cp3)">
<rect x="0.00" y="80.00" width="176.90" height="640.00" fill="#0848e8" filter="url(#nz)"/>
<rect x="0.00" y="80.00" width="110.90" height="640.00" fill="#fff" filter="url(#stk)"/>
<rect x="0.00" y="145.00" width="176.90" height="1.00" fill="#30c8e8" opacity="0.7"/>
<line x1="1" y1="145.50" x2="176.9" y2="145.50" stroke="#ffa818" stroke-width="1.00" stroke-dasharray="5 2 3 3 7 2 2 4"/>
<line x1="3" y1="145.50" x2="176.9" y2="145.50" stroke="#f03010" stroke-width="1.00" stroke-dasharray="2 7 1 5 2 9"/>
<rect x="0.00" y="148.00" width="176.90" height="1.00" fill="#30c8e8" opacity="0.7"/>
<line x1="1" y1="148.50" x2="176.9" y2="148.50" stroke="#ffa818" stroke-width="1.00" stroke-dasharray="5 2 3 3 7 2 2 4"/>
<line x1="3" y1="148.50" x2="176.9" y2="148.50" stroke="#f03010" stroke-width="1.00" stroke-dasharray="2 7 1 5 2 9"/>
<rect x="0.00" y="212.00" width="176.90" height="1.00" fill="#30c8e8" opacity="0.6"/>
<line x1="3" y1="212.50" x2="176.9" y2="212.50" stroke="#f04010" stroke-width="1.00" stroke-dasharray="2 11 1 8 2 14"/>
<rect x="0.00" y="227.00" width="176.90" height="1.00" fill="#9eff5a"/>
<rect x="0.00" y="233.00" width="176.90" height="2.00" fill="url(#ev)"/>
<rect x="0.00" y="235.00" width="176.90" height="4.00" fill="#ff6212"/>
<rect x="0.00" y="239.00" width="176.90" height="1.00" fill="#fdcb0e"/>
<rect x="0.00" y="240.00" width="176.90" height="2.00" fill="#ff6212"/>
<rect x="0.00" y="242.00" width="176.90" height="2.00" fill="#c8f532"/>
<rect x="0.00" y="244.00" width="176.90" height="1.00" fill="#ff6212"/>
<g filter="url(#nzc)"><rect x="0.00" y="228.00" width="176.90" height="4.00" fill="#1ea0f5"/><rect x="0.00" y="245.00" width="176.90" height="2.00" fill="#1ea0f5"/><rect x="0.00" y="414.00" width="176.90" height="10.00" fill="#1ea0f5"/></g>
<rect x="85" y="139" width="27" height="10" fill="url(#gl)"/><rect x="93" y="206" width="19" height="21" fill="url(#gl)"/><rect x="0" y="424" width="112" height="73" fill="#fff" filter="url(#stk2)"/><rect x="56" y="80" width="1" height="640" fill="#60e0c8" opacity="0.7"/>
<rect x="111.90" y="80.00" width="12.10" height="13.00" fill="#fdcb0e"/>
<rect x="125.80" y="80.00" width="12.10" height="13.00" fill="#fdcb0e"/>
<rect x="139.70" y="80.00" width="11.90" height="13.00" fill="#fdcb0e"/>
<rect x="153.40" y="80.00" width="12.20" height="13.00" fill="#ebeb1e"/>
<rect x="111.90" y="93.00" width="12.10" height="13.00" fill="#ebeb1e"/>
<rect x="125.80" y="93.00" width="12.10" height="13.00" fill="#ebeb1e"/>
<rect x="139.70" y="93.00" width="11.90" height="13.00" fill="#ebeb1e"/>
<rect x="153.40" y="93.00" width="12.20" height="13.00" fill="#c8f532"/>
<rect x="111.90" y="106.00" width="12.10" height="6.00" fill="#fdcb0e"/>
<rect x="125.80" y="106.00" width="12.10" height="6.00" fill="#fdcb0e"/>
<rect x="139.70" y="106.00" width="11.90" height="6.00" fill="#fdcb0e"/>
<rect x="153.40" y="106.00" width="12.20" height="6.00" fill="#c8f532"/>
<rect x="111.90" y="112.00" width="12.10" height="8.00" fill="#fdcb0e"/>
<rect x="125.80" y="112.00" width="12.10" height="8.00" fill="#ebeb1e"/>
<rect x="139.70" y="112.00" width="11.90" height="8.00" fill="#ebeb1e"/>
<rect x="153.40" y="112.00" width="12.20" height="8.00" fill="#ebeb1e"/>
<rect x="111.90" y="120.00" width="12.10" height="7.00" fill="#fdcb0e"/>
<rect x="125.80" y="120.00" width="12.10" height="7.00" fill="#fdcb0e"/>
<rect x="139.70" y="120.00" width="11.90" height="7.00" fill="#fdcb0e"/>
<rect x="153.40" y="120.00" width="12.20" height="7.00" fill="#fdcb0e"/>
<rect x="111.90" y="127.00" width="12.10" height="6.00" fill="#ff8c0a"/>
<rect x="125.80" y="127.00" width="12.10" height="6.00" fill="#eb1e00"/>
<rect x="139.70" y="127.00" width="11.90" height="6.00" fill="#ff8c0a"/>
<rect x="153.40" y="127.00" width="12.20" height="6.00" fill="#ff8c0a"/>
<rect x="111.90" y="133.00" width="12.10" height="10.00" fill="#ff8c0a"/>
<rect x="125.80" y="133.00" width="12.10" height="10.00" fill="#eb1e00"/>
<rect x="139.70" y="133.00" width="11.90" height="10.00" fill="#eb1e00"/>
<rect x="153.40" y="133.00" width="12.20" height="10.00" fill="#ff8c0a"/>
<rect x="111.90" y="143.00" width="12.10" height="6.00" fill="#eb1e00"/>
<rect x="125.80" y="143.00" width="12.10" height="6.00" fill="#eb1e00"/>
<rect x="139.70" y="143.00" width="11.90" height="6.00" fill="#ff8c0a"/>
<rect x="153.40" y="143.00" width="12.20" height="6.00" fill="#ff8c0a"/>
<rect x="111.90" y="149.00" width="12.10" height="12.00" fill="#fdcb0e"/>
<rect x="125.80" y="149.00" width="12.10" height="12.00" fill="#fdcb0e"/>
<rect x="139.70" y="149.00" width="11.90" height="12.00" fill="#fdcb0e"/>
<rect x="153.40" y="149.00" width="12.20" height="12.00" fill="#fdcb0e"/>
<rect x="111.90" y="161.00" width="12.10" height="23.50" fill="#ebeb1e"/>
<rect x="125.80" y="161.00" width="12.10" height="23.50" fill="#fdcb0e"/>
<rect x="139.70" y="161.00" width="11.90" height="23.50" fill="#ebeb1e"/>
<rect x="153.40" y="161.00" width="12.20" height="23.50" fill="#ebeb1e"/>
<rect x="111.90" y="184.50" width="12.10" height="9.10" fill="#ff8c0a"/>
<rect x="125.80" y="184.50" width="12.10" height="9.10" fill="#fdcb0e"/>
<rect x="139.70" y="184.50" width="11.90" height="9.10" fill="#ff8c0a"/>
<rect x="153.40" y="184.50" width="12.20" height="9.10" fill="#ff8c0a"/>
<rect x="111.90" y="193.60" width="12.10" height="11.40" fill="#ebeb1e"/>
<rect x="125.80" y="193.60" width="12.10" height="11.40" fill="#ebeb1e"/>
<rect x="139.70" y="193.60" width="11.90" height="11.40" fill="#ebeb1e"/>
<rect x="153.40" y="193.60" width="12.20" height="11.40" fill="#ebeb1e"/>
<rect x="111.90" y="205.00" width="12.10" height="10.00" fill="#ff8c0a"/>
<rect x="125.80" y="205.00" width="12.10" height="10.00" fill="#ff8c0a"/>
<rect x="139.70" y="205.00" width="11.90" height="10.00" fill="#ff8c0a"/>
<rect x="153.40" y="205.00" width="12.20" height="10.00" fill="#ff8c0a"/>
<rect x="111.90" y="215.00" width="12.10" height="11.50" fill="#ff8c0a"/>
<rect x="125.80" y="215.00" width="12.10" height="11.50" fill="#eb1e00"/>
<rect x="139.70" y="215.00" width="11.90" height="11.50" fill="#eb1e00"/>
<rect x="153.40" y="215.00" width="12.20" height="11.50" fill="#ff8c0a"/>
<rect x="111.90" y="226.50" width="12.10" height="5.00" fill="#870000"/>
<rect x="125.80" y="226.50" width="12.10" height="5.00" fill="#870000"/>
<rect x="139.70" y="226.50" width="11.90" height="5.00" fill="#870000"/>
<rect x="153.40" y="226.50" width="12.20" height="5.00" fill="#870000"/>
<rect x="111.90" y="231.50" width="12.10" height="4.50" fill="#eb1e00"/>
<rect x="125.80" y="231.50" width="12.10" height="4.50" fill="#eb1e00"/>
<rect x="139.70" y="231.50" width="11.90" height="4.50" fill="#eb1e00"/>
<rect x="153.40" y="231.50" width="12.20" height="4.50" fill="#eb1e00"/>
<rect x="111.90" y="236.00" width="12.10" height="9.50" fill="#870000"/>
<rect x="125.80" y="236.00" width="12.10" height="9.50" fill="#870000"/>
<rect x="139.70" y="236.00" width="11.90" height="9.50" fill="#870000"/>
<rect x="153.40" y="236.00" width="12.20" height="9.50" fill="#870000"/>
<rect x="111.90" y="245.50" width="12.10" height="3.50" fill="#eb1e00"/>
<rect x="125.80" y="245.50" width="12.10" height="3.50" fill="#eb1e00"/>
<rect x="139.70" y="245.50" width="11.90" height="3.50" fill="#eb1e00"/>
<rect x="153.40" y="245.50" width="12.20" height="3.50" fill="#eb1e00"/>
<rect x="111.90" y="249.00" width="12.10" height="16.00" fill="#fdcb0e"/>
<rect x="125.80" y="249.00" width="12.10" height="16.00" fill="#ebeb1e"/>
<rect x="139.70" y="249.00" width="11.90" height="16.00" fill="#fdcb0e"/>
<rect x="153.40" y="249.00" width="12.20" height="16.00" fill="#fdcb0e"/>
<rect x="111.90" y="265.00" width="12.10" height="27.00" fill="#c8f532"/>
<rect x="125.80" y="265.00" width="12.10" height="27.00" fill="#ebeb1e"/>
<rect x="139.70" y="265.00" width="11.90" height="27.00" fill="#c8f532"/>
<rect x="153.40" y="265.00" width="12.20" height="27.00" fill="#c8f532"/>
<rect x="111.90" y="292.00" width="12.10" height="13.00" fill="#fdcb0e"/>
<rect x="125.80" y="292.00" width="12.10" height="13.00" fill="#ebeb1e"/>
<rect x="139.70" y="292.00" width="11.90" height="13.00" fill="#ebeb1e"/>
<rect x="153.40" y="292.00" width="12.20" height="13.00" fill="#ebeb1e"/>
<rect x="111.90" y="305.00" width="12.10" height="23.00" fill="#ebeb1e"/>
<rect x="125.80" y="305.00" width="12.10" height="23.00" fill="#ebeb1e"/>
<rect x="139.70" y="305.00" width="11.90" height="23.00" fill="#ebeb1e"/>
<rect x="153.40" y="305.00" width="12.20" height="23.00" fill="#ebeb1e"/>
<rect x="111.90" y="362.00" width="12.10" height="41.00" fill="#ff8c0a"/>
<rect x="125.80" y="362.00" width="12.10" height="41.00" fill="#fdcb0e"/>
<rect x="139.70" y="362.00" width="11.90" height="41.00" fill="#ebeb1e"/>
<rect x="153.40" y="362.00" width="12.20" height="41.00" fill="#9eff5a"/>
<rect x="111.90" y="403.00" width="12.10" height="11.00" fill="#fdcb0e"/>
<rect x="125.80" y="403.00" width="12.10" height="11.00" fill="#fdcb0e"/>
<rect x="139.70" y="403.00" width="11.90" height="11.00" fill="#ebeb1e"/>
<rect x="153.40" y="403.00" width="12.20" height="11.00" fill="#ebeb1e"/>
<rect x="111.90" y="414.00" width="12.10" height="10.00" fill="#ff8c0a"/>
<rect x="125.80" y="414.00" width="12.10" height="10.00" fill="#ff8c0a"/>
<rect x="139.70" y="414.00" width="11.90" height="10.00" fill="#ebeb1e"/>
<rect x="153.40" y="414.00" width="12.20" height="10.00" fill="#ebeb1e"/>
<rect x="111.90" y="424.00" width="12.10" height="35.00" fill="#ebeb1e"/>
<rect x="125.80" y="424.00" width="12.10" height="35.00" fill="#c8f532"/>
<rect x="139.70" y="424.00" width="11.90" height="35.00" fill="#c8f532"/>
<rect x="153.40" y="424.00" width="12.20" height="35.00" fill="#c8f532"/>
<rect x="111.90" y="459.00" width="12.10" height="10.00" fill="#fdcb0e"/>
<rect x="125.80" y="459.00" width="12.10" height="10.00" fill="#fdcb0e"/>
<rect x="139.70" y="459.00" width="11.90" height="10.00" fill="#ebeb1e"/>
<rect x="153.40" y="459.00" width="12.20" height="10.00" fill="#c8f532"/>
<rect x="111.90" y="469.00" width="12.10" height="28.00" fill="#c8f532"/>
<rect x="125.80" y="469.00" width="12.10" height="28.00" fill="#c8f532"/>
<rect x="139.70" y="469.00" width="11.90" height="28.00" fill="#9eff5a"/>
<rect x="153.40" y="469.00" width="12.20" height="28.00" fill="#9eff5a"/>
<rect x="111.90" y="497.00" width="12.10" height="19.00" fill="#fdcb0e"/>
<rect x="125.80" y="497.00" width="12.10" height="19.00" fill="#fdcb0e"/>
<rect x="139.70" y="497.00" width="11.90" height="19.00" fill="#fdcb0e"/>
<rect x="153.40" y="497.00" width="12.20" height="19.00" fill="#fdcb0e"/>
<rect x="111.90" y="516.00" width="12.10" height="24.00" fill="#fdcb0e"/>
<rect x="125.80" y="516.00" width="12.10" height="24.00" fill="#f6da14"/>
<rect x="139.70" y="516.00" width="11.90" height="24.00" fill="#9eff5a"/>
<rect x="153.40" y="516.00" width="12.20" height="24.00" fill="#9eff5a"/>
<rect x="111.90" y="540.00" width="12.10" height="60.00" fill="#f6da14"/>
<rect x="125.80" y="540.00" width="12.10" height="60.00" fill="#f6da14"/>
<rect x="139.70" y="540.00" width="11.90" height="60.00" fill="#9eff5a"/>
<rect x="153.40" y="540.00" width="12.20" height="60.00" fill="#c8f532"/>
<rect x="111.90" y="600.00" width="12.10" height="14.00" fill="#ebeb1e"/>
<rect x="125.80" y="600.00" width="12.10" height="14.00" fill="#ebeb1e"/>
<rect x="139.70" y="600.00" width="11.90" height="14.00" fill="#9eff5a"/>
<rect x="153.40" y="600.00" width="12.20" height="14.00" fill="#c8f532"/>
<rect x="111.90" y="614.00" width="12.10" height="7.00" fill="#ff8c0a"/>
<rect x="125.80" y="614.00" width="12.10" height="7.00" fill="#ff8c0a"/>
<rect x="139.70" y="614.00" width="11.90" height="7.00" fill="#c8f532"/>
<rect x="153.40" y="614.00" width="12.20" height="7.00" fill="#c8f532"/>
<rect x="111.90" y="621.00" width="12.10" height="19.00" fill="#ebeb1e"/>
<rect x="125.80" y="621.00" width="12.10" height="19.00" fill="#ebeb1e"/>
<rect x="139.70" y="621.00" width="11.90" height="19.00" fill="#c8f532"/>
<rect x="153.40" y="621.00" width="12.20" height="19.00" fill="#9eff5a"/>
<rect x="111.90" y="640.00" width="12.10" height="12.00" fill="#ebeb1e"/>
<rect x="125.80" y="640.00" width="12.10" height="12.00" fill="#ebeb1e"/>
<rect x="139.70" y="640.00" width="11.90" height="12.00" fill="#fdcb0e"/>
<rect x="153.40" y="640.00" width="12.20" height="12.00" fill="#c8f532"/>
<rect x="111.90" y="652.00" width="12.10" height="38.00" fill="#c8f532"/>
<rect x="125.80" y="652.00" width="12.10" height="38.00" fill="#ebeb1e"/>
<rect x="139.70" y="652.00" width="11.90" height="38.00" fill="#c8f532"/>
<rect x="153.40" y="652.00" width="12.20" height="38.00" fill="#9eff5a"/>
<rect x="111.90" y="690.00" width="12.10" height="15.00" fill="#fdcb0e"/>
<rect x="125.80" y="690.00" width="12.10" height="15.00" fill="#ebeb1e"/>
<rect x="139.70" y="690.00" width="11.90" height="15.00" fill="#c8f532"/>
<rect x="153.40" y="690.00" width="12.20" height="15.00" fill="#9eff5a"/>
<rect x="111.90" y="705.00" width="12.10" height="15.00" fill="#ebeb1e"/>
<rect x="125.80" y="705.00" width="12.10" height="15.00" fill="#ebeb1e"/>
<rect x="139.70" y="705.00" width="11.90" height="15.00" fill="#c8f532"/>
<rect x="153.40" y="705.00" width="12.20" height="15.00" fill="#9eff5a"/>
<g filter="url(#bt)"><rect x="111.90" y="80" width="12.10" height="145" fill="#fff"/><rect x="125.80" y="80" width="12.10" height="145" fill="#fff"/><rect x="139.70" y="80" width="11.90" height="145" fill="#fff"/><rect x="153.40" y="80" width="12.20" height="145" fill="#fff"/><rect x="111.90" y="249.5" width="12.10" height="470.5" fill="#fff"/><rect x="125.80" y="249.5" width="12.10" height="470.5" fill="#fff"/><rect x="139.70" y="249.5" width="11.90" height="470.5" fill="#fff"/><rect x="153.40" y="249.5" width="12.20" height="470.5" fill="#fff"/></g>
<rect x="124.00" y="80" width="1.80" height="640" fill="#1060ff" opacity="0.0"/>
<rect x="137.90" y="80" width="1.80" height="640" fill="#1060ff" opacity="0.0"/>
<rect x="151.60" y="80" width="1.80" height="640" fill="#1060ff" opacity="0.0"/>
<rect x="110.40" y="80" width="1.5" height="146" fill="#50e0d0" opacity="0.55"/>
<rect x="165.60" y="80" width="1.3" height="146" fill="#50e0d0" opacity="0.5"/>
<rect x="110.40" y="249" width="1.5" height="471" fill="#50e0d0" opacity="0.55"/>
<rect x="165.60" y="249" width="1.3" height="471" fill="#50e0d0" opacity="0.5"/>
<rect x="111.90" y="226.50" width="53.70" height="5.00" fill="#870000"/>
<rect x="124.30" y="226.50" width="1.20" height="5.00" fill="#d82808"/>
<rect x="138.20" y="226.50" width="1.20" height="5.00" fill="#d82808"/>
<rect x="151.90" y="226.50" width="1.20" height="5.00" fill="#d82808"/>
<rect x="111.90" y="236.00" width="53.70" height="9.50" fill="#870000"/>
<rect x="124.30" y="236.00" width="1.20" height="9.50" fill="#d82808"/>
<rect x="138.20" y="236.00" width="1.20" height="9.50" fill="#d82808"/>
<rect x="151.90" y="236.00" width="1.20" height="9.50" fill="#d82808"/>
<rect x="0.00" y="86.00" width="176.90" height="4.00" fill="#9eff5a"/>
<rect x="0.00" y="91.00" width="176.90" height="2.00" fill="#ff6212"/>
<rect x="0.00" y="98.00" width="176.90" height="1.00" fill="#46e8d7"/>
<rect x="0.00" y="112.00" width="176.90" height="2.00" fill="#ff6212"/>
<rect x="0.00" y="118.00" width="176.90" height="1.00" fill="#9eff5a"/>
<rect x="0.00" y="120.00" width="176.90" height="1.00" fill="#9eff5a"/>
<rect x="0.00" y="126.00" width="176.90" height="1.00" fill="#9eff5a"/>
<rect x="0.00" y="133.00" width="176.90" height="1.00" fill="#9eff5a"/>
<rect x="0.00" y="136.00" width="176.90" height="1.00" fill="#9eff5a"/>
<rect x="0.00" y="139.00" width="176.90" height="1.00" fill="#9eff5a"/>
<rect x="0.00" y="142.00" width="176.90" height="1.00" fill="#9eff5a"/>
<rect x="0.00" y="150.00" width="176.90" height="1.00" fill="#ff6212"/>
<rect x="0.00" y="151.00" width="176.90" height="3.00" fill="#9eff5a"/>
<rect x="0.00" y="158.00" width="176.90" height="2.00" fill="#9eff5a"/>
<rect x="0.00" y="160.00" width="176.90" height="1.00" fill="#ff6212"/>
<rect x="0.00" y="162.00" width="176.90" height="1.00" fill="#9eff5a"/>
<rect x="0.00" y="165.00" width="176.90" height="2.00" fill="#9eff5a"/>
<rect x="0.00" y="169.00" width="176.90" height="1.00" fill="#ff6212"/>
<rect x="0.00" y="172.00" width="176.90" height="1.00" fill="#9eff5a"/>
<rect x="0.00" y="174.00" width="176.90" height="1.00" fill="#9eff5a"/>
<rect x="0.00" y="175.00" width="176.90" height="1.00" fill="#ff6212"/>
<rect x="0.00" y="176.00" width="176.90" height="1.00" fill="#9eff5a"/>
<rect x="0.00" y="179.00" width="176.90" height="1.00" fill="#9eff5a"/>
<rect x="0.00" y="183.00" width="176.90" height="1.00" fill="#ff6212"/>
<rect x="0.00" y="201.00" width="176.90" height="1.00" fill="#9eff5a"/>
<rect x="0.00" y="203.00" width="176.90" height="1.00" fill="#9eff5a"/>
<rect x="0.00" y="204.00" width="176.90" height="1.00" fill="#ff6212"/>
<rect x="0.00" y="232.00" width="176.90" height="1.00" fill="#9eff5a"/>
<rect x="0.00" y="249.00" width="176.90" height="1.00" fill="#9eff5a"/>
<rect x="0.00" y="251.00" width="176.90" height="1.00" fill="#9eff5a"/>
<rect x="0.00" y="252.00" width="176.90" height="1.00" fill="#ff6212"/>
<rect x="0.00" y="260.00" width="176.90" height="1.00" fill="#9eff5a"/>
<rect x="0.00" y="263.00" width="176.90" height="1.00" fill="#9eff5a"/>
<rect x="0.00" y="265.00" width="176.90" height="1.00" fill="#ff6212"/>
<rect x="0.00" y="266.00" width="176.90" height="1.00" fill="#9eff5a"/>
<rect x="0.00" y="269.00" width="176.90" height="1.00" fill="#9eff5a"/>
<rect x="0.00" y="273.00" width="176.90" height="1.00" fill="#9eff5a"/>
<rect x="0.00" y="278.00" width="176.90" height="1.00" fill="#9eff5a"/>
<rect x="0.00" y="286.00" width="176.90" height="1.00" fill="#9eff5a"/>
<rect x="0.00" y="292.00" width="176.90" height="1.00" fill="#9eff5a"/>
<rect x="0.00" y="307.00" width="176.90" height="1.00" fill="#9eff5a"/>
<rect x="0.00" y="310.00" width="176.90" height="1.00" fill="#9eff5a"/>
<rect x="0.00" y="313.00" width="176.90" height="1.00" fill="#9eff5a"/>
<rect x="0.00" y="323.00" width="176.90" height="1.00" fill="#9eff5a"/>
<rect x="0.00" y="326.00" width="176.90" height="1.00" fill="#ff6212"/>
<rect x="0.00" y="328.00" width="176.90" height="34.00" fill="#9eff5a"/>
<rect x="0.00" y="364.00" width="176.90" height="1.00" fill="#46e8d7"/>
<rect x="0.00" y="376.00" width="176.90" height="1.00" fill="#ff6212"/>
<rect x="0.00" y="378.00" width="176.90" height="1.00" fill="#ff6212"/>
<rect x="0.00" y="386.00" width="176.90" height="1.00" fill="#9eff5a"/>
<rect x="0.00" y="394.00" width="176.90" height="1.00" fill="#ff6212"/>
<rect x="0.00" y="402.00" width="176.90" height="3.00" fill="#9eff5a"/>
<rect x="0.00" y="405.00" width="176.90" height="1.00" fill="#ff6212"/>
<rect x="0.00" y="408.00" width="176.90" height="2.00" fill="#9eff5a"/>
<rect x="0.00" y="410.00" width="176.90" height="1.00" fill="#000096"/>
<rect x="0.00" y="411.00" width="176.90" height="3.00" fill="#9eff5a"/>
<rect x="0.00" y="427.00" width="176.90" height="2.00" fill="#ff6212"/>
<rect x="0.00" y="438.00" width="176.90" height="1.00" fill="#9eff5a"/>
<rect x="0.00" y="445.00" width="176.90" height="1.00" fill="#9eff5a"/>
<rect x="0.00" y="459.00" width="176.90" height="2.00" fill="#ff6212"/>
<rect x="0.00" y="462.00" width="176.90" height="1.00" fill="#9eff5a"/>
<rect x="0.00" y="466.00" width="176.90" height="1.00" fill="#ff6212"/>
<rect x="0.00" y="483.00" width="176.90" height="1.00" fill="#9eff5a"/>
<rect x="0.00" y="485.00" width="176.90" height="1.00" fill="#9eff5a"/>
<rect x="0.00" y="496.00" width="176.90" height="1.00" fill="#ff6212"/>
<rect x="0.00" y="498.00" width="176.90" height="1.00" fill="#ff6212"/>
<rect x="0.00" y="502.00" width="176.90" height="2.00" fill="#ff6212"/>
<rect x="0.00" y="510.00" width="176.90" height="2.00" fill="#9eff5a"/>
<rect x="0.00" y="512.00" width="176.90" height="2.00" fill="#ff6212"/>
<rect x="0.00" y="515.00" width="176.90" height="1.00" fill="#ff6212"/>
<rect x="0.00" y="516.00" width="176.90" height="2.00" fill="#9eff5a"/>
<rect x="0.00" y="520.00" width="176.90" height="1.00" fill="#9eff5a"/>
<rect x="0.00" y="522.00" width="176.90" height="1.00" fill="#9eff5a"/>
<rect x="0.00" y="529.00" width="176.90" height="1.00" fill="#9eff5a"/>
<rect x="0.00" y="533.00" width="176.90" height="1.00" fill="#9eff5a"/>
<rect x="0.00" y="544.00" width="176.90" height="1.00" fill="#9eff5a"/>
<rect x="0.00" y="557.00" width="176.90" height="1.00" fill="#9eff5a"/>
<rect x="0.00" y="563.00" width="176.90" height="1.00" fill="#9eff5a"/>
<rect x="0.00" y="573.00" width="176.90" height="1.00" fill="#ff6212"/>
<rect x="0.00" y="577.00" width="176.90" height="1.00" fill="#ff6212"/>
<rect x="0.00" y="595.00" width="176.90" height="1.00" fill="#9eff5a"/>
<rect x="0.00" y="598.00" width="176.90" height="1.00" fill="#9eff5a"/>
<rect x="0.00" y="603.00" width="176.90" height="1.00" fill="#9eff5a"/>
<rect x="0.00" y="608.00" width="176.90" height="1.00" fill="#9eff5a"/>
<rect x="0.00" y="611.00" width="176.90" height="3.00" fill="#9eff5a"/>
<rect x="0.00" y="620.00" width="176.90" height="1.00" fill="#9eff5a"/>
<rect x="0.00" y="621.00" width="176.90" height="1.00" fill="#000096"/>
<rect x="0.00" y="622.00" width="176.90" height="1.00" fill="#9eff5a"/>
<rect x="0.00" y="625.00" width="176.90" height="1.00" fill="#9eff5a"/>
<rect x="0.00" y="627.00" width="176.90" height="1.00" fill="#9eff5a"/>
<rect x="0.00" y="630.00" width="176.90" height="2.00" fill="#9eff5a"/>
<rect x="0.00" y="636.00" width="176.90" height="1.00" fill="#9eff5a"/>
<rect x="0.00" y="639.00" width="176.90" height="1.00" fill="#9eff5a"/>
<rect x="0.00" y="642.00" width="176.90" height="1.00" fill="#9eff5a"/>
<rect x="0.00" y="651.00" width="176.90" height="1.00" fill="#9eff5a"/>
<rect x="0.00" y="664.00" width="176.90" height="1.00" fill="#9eff5a"/>
<rect x="0.00" y="671.00" width="176.90" height="1.00" fill="#9eff5a"/>
<rect x="0.00" y="673.00" width="176.90" height="1.00" fill="#9eff5a"/>
<rect x="0.00" y="679.00" width="176.90" height="2.00" fill="#9eff5a"/>
<rect x="0.00" y="683.00" width="176.90" height="1.00" fill="#ff6212"/>
<rect x="0.00" y="699.00" width="176.90" height="1.00" fill="#ff6212"/>
<rect x="0.00" y="707.00" width="176.90" height="1.00" fill="#9eff5a"/>
<rect x="0.00" y="715.00" width="176.90" height="1.00" fill="#ff6212"/>
<rect x="0.00" y="717.00" width="176.90" height="1.00" fill="#9eff5a"/>
</g>
<rect x="768" y="80" width="1" height="641" fill="#000"/><rect x="945" y="80" width="1" height="641" fill="#000"/><rect x="768" y="80" width="178" height="1" fill="#000"/><rect x="768" y="720" width="178" height="1" fill="#000"/>
<rect x="1019.5" y="160" width="15" height="480.5" fill="url(#jet)" stroke="#000" stroke-width="1"/>
<line x1="172.9" y1="720" x2="172.9" y2="716" stroke="#000"/><line x1="172.9" y1="80" x2="172.9" y2="84" stroke="#000"/><line x1="214.4" y1="720" x2="214.4" y2="716" stroke="#000"/><line x1="214.4" y1="80" x2="214.4" y2="84" stroke="#000"/><line x1="255.9" y1="720" x2="255.9" y2="716" stroke="#000"/><line x1="255.9" y1="80" x2="255.9" y2="84" stroke="#000"/><line x1="297.4" y1="720" x2="297.4" y2="716" stroke="#000"/><line x1="297.4" y1="80" x2="297.4" y2="84" stroke="#000"/><line x1="131.4" y1="586.7" x2="135.4" y2="586.7" stroke="#000"/><line x1="308.3" y1="586.7" x2="304.3" y2="586.7" stroke="#000"/><line x1="131.4" y1="453.3" x2="135.4" y2="453.3" stroke="#000"/><line x1="308.3" y1="453.3" x2="304.3" y2="453.3" stroke="#000"/><line x1="131.4" y1="320.0" x2="135.4" y2="320.0" stroke="#000"/><line x1="308.3" y1="320.0" x2="304.3" y2="320.0" stroke="#000"/><line x1="131.4" y1="186.7" x2="135.4" y2="186.7" stroke="#000"/><line x1="308.3" y1="186.7" x2="304.3" y2="186.7" stroke="#000"/><line x1="385.5" y1="720" x2="385.5" y2="716" stroke="#000"/><line x1="385.5" y1="80" x2="385.5" y2="84" stroke="#000"/><line x1="427.0" y1="720" x2="427.0" y2="716" stroke="#000"/><line x1="427.0" y1="80" x2="427.0" y2="84" stroke="#000"/><line x1="468.5" y1="720" x2="468.5" y2="716" stroke="#000"/><line x1="468.5" y1="80" x2="468.5" y2="84" stroke="#000"/><line x1="510.0" y1="720" x2="510.0" y2="716" stroke="#000"/><line x1="510.0" y1="80" x2="510.0" y2="84" stroke="#000"/><line x1="344.0" y1="586.7" x2="348.0" y2="586.7" stroke="#000"/><line x1="520.9" y1="586.7" x2="516.9" y2="586.7" stroke="#000"/><line x1="344.0" y1="453.3" x2="348.0" y2="453.3" stroke="#000"/><line x1="520.9" y1="453.3" x2="516.9" y2="453.3" stroke="#000"/><line x1="344.0" y1="320.0" x2="348.0" y2="320.0" stroke="#000"/><line x1="520.9" y1="320.0" x2="516.9" y2="320.0" stroke="#000"/><line x1="344.0" y1="186.7" x2="348.0" y2="186.7" stroke="#000"/><line x1="520.9" y1="186.7" x2="516.9" y2="186.7" stroke="#000"/><line x1="597.7" y1="720" x2="597.7" y2="716" stroke="#000"/><line x1="597.7" y1="80" x2="597.7" y2="84" stroke="#000"/><line x1="639.2" y1="720" x2="639.2" y2="716" stroke="#000"/><line x1="639.2" y1="80" x2="639.2" y2="84" stroke="#000"/><line x1="680.7" y1="720" x2="680.7" y2="716" stroke="#000"/><line x1="680.7" y1="80" x2="680.7" y2="84" stroke="#000"/><line x1="722.2" y1="720" x2="722.2" y2="716" stroke="#000"/><line x1="722.2" y1="80" x2="722.2" y2="84" stroke="#000"/><line x1="556.2" y1="586.7" x2="560.2" y2="586.7" stroke="#000"/><line x1="733.1" y1="586.7" x2="729.1" y2="586.7" stroke="#000"/><line x1="556.2" y1="453.3" x2="560.2" y2="453.3" stroke="#000"/><line x1="733.1" y1="453.3" x2="729.1" y2="453.3" stroke="#000"/><line x1="556.2" y1="320.0" x2="560.2" y2="320.0" stroke="#000"/><line x1="733.1" y1="320.0" x2="729.1" y2="320.0" stroke="#000"/><line x1="556.2" y1="186.7" x2="560.2" y2="186.7" stroke="#000"/><line x1="733.1" y1="186.7" x2="729.1" y2="186.7" stroke="#000"/><line x1="810.1" y1="720" x2="810.1" y2="716" stroke="#000"/><line x1="810.1" y1="80" x2="810.1" y2="84" stroke="#000"/><line x1="851.6" y1="720" x2="851.6" y2="716" stroke="#000"/><line x1="851.6" y1="80" x2="851.6" y2="84" stroke="#000"/><line x1="893.1" y1="720" x2="893.1" y2="716" stroke="#000"/><line x1="893.1" y1="80" x2="893.1" y2="84" stroke="#000"/><line x1="934.6" y1="720" x2="934.6" y2="716" stroke="#000"/><line x1="934.6" y1="80" x2="934.6" y2="84" stroke="#000"/><line x1="768.6" y1="586.7" x2="772.6" y2="586.7" stroke="#000"/><line x1="945.5" y1="586.7" x2="941.5" y2="586.7" stroke="#000"/><line x1="768.6" y1="453.3" x2="772.6" y2="453.3" stroke="#000"/><line x1="945.5" y1="453.3" x2="941.5" y2="453.3" stroke="#000"/><line x1="768.6" y1="320.0" x2="772.6" y2="320.0" stroke="#000"/><line x1="945.5" y1="320.0" x2="941.5" y2="320.0" stroke="#000"/><line x1="768.6" y1="186.7" x2="772.6" y2="186.7" stroke="#000"/><line x1="945.5" y1="186.7" x2="941.5" y2="186.7" stroke="#000"/><line x1="1019.5" y1="256.5" x2="1023.5" y2="256.5" stroke="#000"/><line x1="1034.5" y1="256.5" x2="1030.5" y2="256.5" stroke="#000"/><line x1="1019.5" y1="352.5" x2="1023.5" y2="352.5" stroke="#000"/><line x1="1034.5" y1="352.5" x2="1030.5" y2="352.5" stroke="#000"/><line x1="1019.5" y1="448.5" x2="1023.5" y2="448.5" stroke="#000"/><line x1="1034.5" y1="448.5" x2="1030.5" y2="448.5" stroke="#000"/><line x1="1019.5" y1="544.5" x2="1023.5" y2="544.5" stroke="#000"/><line x1="1034.5" y1="544.5" x2="1030.5" y2="544.5" stroke="#000"/><line x1="1022.5" y1="160" x2="1022.5" y2="165.5" stroke="#000"/><line x1="1022.5" y1="640.5" x2="1022.5" y2="635" stroke="#000"/><line x1="1025.5" y1="160" x2="1025.5" y2="165.5" stroke="#000"/><line x1="1025.5" y1="640.5" x2="1025.5" y2="635" stroke="#000"/><line x1="1028.5" y1="160" x2="1028.5" y2="165.5" stroke="#000"/><line x1="1028.5" y1="640.5" x2="1028.5" y2="635" stroke="#000"/><line x1="1031.5" y1="160" x2="1031.5" y2="165.5" stroke="#000"/><line x1="1031.5" y1="640.5" x2="1031.5" y2="635" stroke="#000"/><rect x="1017.5" y="646" width="1" height="1" fill="#888"/><rect x="1020.8" y="646" width="1" height="1" fill="#888"/><rect x="1024.1" y="646" width="1" height="1" fill="#888"/><rect x="1027.4" y="646" width="1" height="1" fill="#888"/><rect x="1030.7" y="646" width="1" height="1" fill="#888"/><rect x="1034.0" y="646" width="1" height="1" fill="#888"/>
<g shape-rendering="auto" text-rendering="geometricPrecision" opacity="0.999"><text x="589.4" y="26" font-size="12.4" text-anchor="middle" textLength="127.3" lengthAdjust="spacingAndGlyphs">2017-05-01 0.0-24.0</text><text x="220.7" y="71.9" font-size="14.9" text-anchor="middle" textLength="100.3" lengthAdjust="spacingAndGlyphs">XX, BL V2*V6</text><text x="131.6" y="736.4" font-size="11" text-anchor="middle" textLength="21.8" lengthAdjust="spacingAndGlyphs">320</text><text x="173.1" y="736.4" font-size="11" text-anchor="middle" textLength="21.8" lengthAdjust="spacingAndGlyphs">335</text><text x="214.6" y="736.4" font-size="11" text-anchor="middle" textLength="21.8" lengthAdjust="spacingAndGlyphs">350</text><text x="256.1" y="736.4" font-size="11" text-anchor="middle" textLength="21.8" lengthAdjust="spacingAndGlyphs">365</text><text x="297.6" y="736.4" font-size="11" text-anchor="middle" textLength="21.8" lengthAdjust="spacingAndGlyphs">380</text><text x="126.2" y="723.6" font-size="11" text-anchor="end" textLength="7" lengthAdjust="spacingAndGlyphs">0</text><text x="126.2" y="590.3" font-size="11" text-anchor="end" textLength="7" lengthAdjust="spacingAndGlyphs">5</text><text x="126.2" y="456.9" font-size="11" text-anchor="end" textLength="14.4" lengthAdjust="spacingAndGlyphs">10</text><text x="126.2" y="323.6" font-size="11" text-anchor="end" textLength="14.4" lengthAdjust="spacingAndGlyphs">15</text><text x="126.2" y="190.3" font-size="11" text-anchor="end" textLength="14.4" lengthAdjust="spacingAndGlyphs">20</text><text x="433.2" y="71.9" font-size="14.9" text-anchor="middle" textLength="100.3" lengthAdjust="spacingAndGlyphs">YY, BL V2*V6</text><text x="344.2" y="736.4" font-size="11" text-anchor="middle" textLength="21.8" lengthAdjust="spacingAndGlyphs">320</text><text x="385.7" y="736.4" font-size="11" text-anchor="middle" textLength="21.8" lengthAdjust="spacingAndGlyphs">335</text><text x="427.2" y="736.4" font-size="11" text-anchor="middle" textLength="21.8" lengthAdjust="spacingAndGlyphs">350</text><text x="468.7" y="736.4" font-size="11" text-anchor="middle" textLength="21.8" lengthAdjust="spacingAndGlyphs">365</text><text x="510.2" y="736.4" font-size="11" text-anchor="middle" textLength="21.8" lengthAdjust="spacingAndGlyphs">380</text><text x="339.2" y="723.6" font-size="11" text-anchor="end" textLength="7" lengthAdjust="spacingAndGlyphs">0</text><text x="339.2" y="590.3" font-size="11" text-anchor="end" textLength="7" lengthAdjust="spacingAndGlyphs">5</text><text x="339.2" y="456.9" font-size="11" text-anchor="end" textLength="14.4" lengthAdjust="spacingAndGlyphs">10</text><text x="339.2" y="323.6" font-size="11" text-anchor="end" textLength="14.4" lengthAdjust="spacingAndGlyphs">15</text><text x="339.2" y="190.3" font-size="11" text-anchor="end" textLength="14.4" lengthAdjust="spacingAndGlyphs">20</text><text x="645.5" y="71.9" font-size="14.9" text-anchor="middle" textLength="100.3" lengthAdjust="spacingAndGlyphs">XY, BL V2*V6</text><text x="556.4" y="736.4" font-size="11" text-anchor="middle" textLength="21.8" lengthAdjust="spacingAndGlyphs">320</text><text x="597.9" y="736.4" font-size="11" text-anchor="middle" textLength="21.8" lengthAdjust="spacingAndGlyphs">335</text><text x="639.4" y="736.4" font-size="11" text-anchor="middle" textLength="21.8" lengthAdjust="spacingAndGlyphs">350</text><text x="680.9" y="736.4" font-size="11" text-anchor="middle" textLength="21.8" lengthAdjust="spacingAndGlyphs">365</text><text x="722.4" y="736.4" font-size="11" text-anchor="middle" textLength="21.8" lengthAdjust="spacingAndGlyphs">380</text><text x="551.2" y="723.6" font-size="11" text-anchor="end" textLength="7" lengthAdjust="spacingAndGlyphs">0</text><text x="551.2" y="590.3" font-size="11" text-anchor="end" textLength="7" lengthAdjust="spacingAndGlyphs">5</text><text x="551.2" y="456.9" font-size="11" text-anchor="end" textLength="14.4" lengthAdjust="spacingAndGlyphs">10</text><text x="551.2" y="323.6" font-size="11" text-anchor="end" textLength="14.4" lengthAdjust="spacingAndGlyphs">15</text><text x="551.2" y="190.3" font-size="11" text-anchor="end" textLength="14.4" lengthAdjust="spacingAndGlyphs">20</text><text x="857.9" y="71.9" font-size="14.9" text-anchor="middle" textLength="100.3" lengthAdjust="spacingAndGlyphs">YX, BL V2*V6</text><text x="768.8" y="736.4" font-size="11" text-anchor="middle" textLength="21.8" lengthAdjust="spacingAndGlyphs">320</text><text x="810.3" y="736.4" font-size="11" text-anchor="middle" textLength="21.8" lengthAdjust="spacingAndGlyphs">335</text><text x="851.8" y="736.4" font-size="11" text-anchor="middle" textLength="21.8" lengthAdjust="spacingAndGlyphs">350</text><text x="893.3" y="736.4" font-size="11" text-anchor="middle" textLength="21.8" lengthAdjust="spacingAndGlyphs">365</text><text x="934.8" y="736.4" font-size="11" text-anchor="middle" textLength="21.8" lengthAdjust="spacingAndGlyphs">380</text><text x="763.2" y="723.6" font-size="11" text-anchor="end" textLength="7" lengthAdjust="spacingAndGlyphs">0</text><text x="763.2" y="590.3" font-size="11" text-anchor="end" textLength="7" lengthAdjust="spacingAndGlyphs">5</text><text x="763.2" y="456.9" font-size="11" text-anchor="end" textLength="14.4" lengthAdjust="spacingAndGlyphs">10</text><text x="763.2" y="323.6" font-size="11" text-anchor="end" textLength="14.4" lengthAdjust="spacingAndGlyphs">15</text><text x="763.2" y="190.3" font-size="11" text-anchor="end" textLength="14.4" lengthAdjust="spacingAndGlyphs">20</text><text x="483.5" y="754.7" font-size="12.4" text-anchor="middle" textLength="103.4" lengthAdjust="spacingAndGlyphs">frequency (MHz)</text><text x="100.2" y="400" font-size="12.4" text-anchor="middle" textLength="66.6" lengthAdjust="spacingAndGlyphs" transform="rotate(-90 100.2 400)">UT (hours)</text><text x="1013.2" y="163.6" font-size="10.4" text-anchor="end" textLength="6.3" lengthAdjust="spacingAndGlyphs">1</text><text x="1013.2" y="259.6" font-size="10.4" text-anchor="end" textLength="6.3" lengthAdjust="spacingAndGlyphs">0</text><text x="1013.2" y="355.6" font-size="10.4" text-anchor="end" textLength="14.4" lengthAdjust="spacingAndGlyphs">−1</text><text x="1013.2" y="451.6" font-size="10.4" text-anchor="end" textLength="14.4" lengthAdjust="spacingAndGlyphs">−2</text><text x="1013.2" y="547.6" font-size="10.4" text-anchor="end" textLength="14.4" lengthAdjust="spacingAndGlyphs">−3</text><text x="1013.2" y="643.6" font-size="10.4" text-anchor="end" textLength="14.4" lengthAdjust="spacingAndGlyphs">−4</text><text x="985.3" y="400.6" font-size="13" text-anchor="middle" textLength="95" lengthAdjust="spacingAndGlyphs" transform="rotate(-90 985.3 400.6)">log<tspan font-size="8.7" dy="2.5">10</tspan><tspan dy="-2.5"> amplitude</tspan></text></g>
</svg>
</body></html>
